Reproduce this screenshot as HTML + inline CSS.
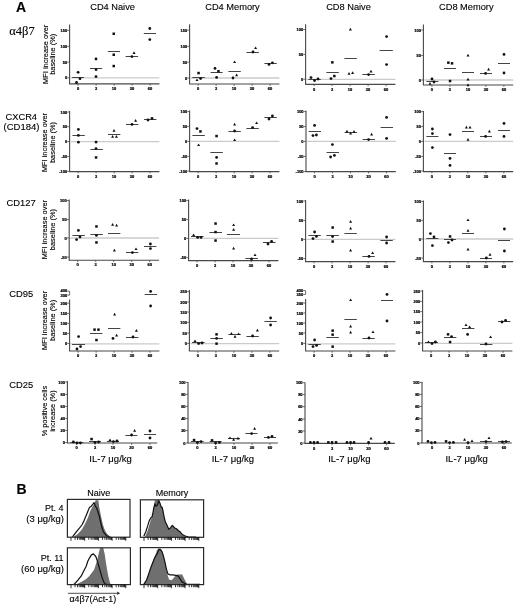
<!DOCTYPE html>
<html><head><meta charset="utf-8"><style>
html,body{margin:0;padding:0;background:#fff;}
body{width:520px;height:607px;overflow:hidden;}
svg{display:block;filter:grayscale(1) blur(0.35px);}
svg text{font-family:"Liberation Sans", sans-serif;fill:#000;stroke:#000;stroke-width:0.12px;}
.tk{font-weight:bold;fill:#000;stroke:#000;stroke-width:0.22px;}
</style></head><body>
<svg width="520" height="607" viewBox="0 0 520 607">
<rect width="520" height="607" fill="#fff"/>
<line x1="70.6" y1="77.8" x2="159.4" y2="77.8" stroke="#cbcbcb" stroke-width="1.3"/>
<line x1="69.6" y1="24.4" x2="69.6" y2="83.9" stroke="#484848" stroke-width="1.1"/>
<line x1="69.1" y1="83.9" x2="159.4" y2="83.9" stroke="#484848" stroke-width="1.1"/>
<line x1="67.4" y1="30.4" x2="69.6" y2="30.4" stroke="#484848" stroke-width="0.8"/>
<text x="67.2" y="31.9" font-size="4.0" class="tk" text-anchor="end">150</text>
<line x1="67.4" y1="46.4" x2="69.6" y2="46.4" stroke="#484848" stroke-width="0.8"/>
<text x="67.2" y="47.9" font-size="4.0" class="tk" text-anchor="end">100</text>
<line x1="67.4" y1="62.1" x2="69.6" y2="62.1" stroke="#484848" stroke-width="0.8"/>
<text x="67.2" y="63.6" font-size="4.0" class="tk" text-anchor="end">50</text>
<line x1="67.4" y1="77.8" x2="69.6" y2="77.8" stroke="#484848" stroke-width="0.8"/>
<text x="67.2" y="79.3" font-size="4.0" class="tk" text-anchor="end">0</text>
<line x1="78.1" y1="83.9" x2="78.1" y2="85.7" stroke="#484848" stroke-width="0.8"/>
<text x="78.1" y="90.1" font-size="4.0" class="tk" text-anchor="middle">0</text>
<line x1="96.1" y1="83.9" x2="96.1" y2="85.7" stroke="#484848" stroke-width="0.8"/>
<text x="96.1" y="90.1" font-size="4.0" class="tk" text-anchor="middle">3</text>
<line x1="114.1" y1="83.9" x2="114.1" y2="85.7" stroke="#484848" stroke-width="0.8"/>
<text x="114.1" y="90.1" font-size="4.0" class="tk" text-anchor="middle">10</text>
<line x1="132.1" y1="83.9" x2="132.1" y2="85.7" stroke="#484848" stroke-width="0.8"/>
<text x="132.1" y="90.1" font-size="4.0" class="tk" text-anchor="middle">30</text>
<line x1="150.1" y1="83.9" x2="150.1" y2="85.7" stroke="#484848" stroke-width="0.8"/>
<text x="150.1" y="90.1" font-size="4.0" class="tk" text-anchor="middle">60</text>
<line x1="72.1" y1="77.5" x2="84.0" y2="77.5" stroke="#444" stroke-width="1"/>
<line x1="90.0" y1="68.5" x2="102.2" y2="68.5" stroke="#444" stroke-width="1"/>
<line x1="107.8" y1="51.5" x2="120.0" y2="51.5" stroke="#444" stroke-width="1"/>
<line x1="125.6" y1="56.5" x2="138.1" y2="56.5" stroke="#444" stroke-width="1"/>
<line x1="143.8" y1="33.5" x2="156.0" y2="33.5" stroke="#444" stroke-width="1"/>
<circle cx="78.1" cy="72.3" r="1.4" fill="#111"/>
<circle cx="80.0" cy="78.7" r="1.4" fill="#111"/>
<circle cx="76.5" cy="82.5" r="1.4" fill="#111"/>
<circle cx="96.0" cy="59.0" r="1.4" fill="#111"/>
<rect x="94.8" y="68.3" width="2.5" height="2.5" fill="#111"/>
<circle cx="96.0" cy="76.6" r="1.4" fill="#111"/>
<rect x="112.5" y="32.5" width="2.5" height="2.5" fill="#111"/>
<rect x="112.5" y="53.5" width="2.5" height="2.5" fill="#111"/>
<rect x="112.5" y="64.8" width="2.5" height="2.5" fill="#111"/>
<circle cx="131.9" cy="56.6" r="1.4" fill="#111"/>
<path d="M134.0 51.3L135.5 54.0L132.5 54.0Z" fill="#111"/>
<circle cx="149.8" cy="28.5" r="1.4" fill="#111"/>
<circle cx="149.8" cy="39.6" r="1.4" fill="#111"/>
<line x1="190.6" y1="78.0" x2="279.4" y2="78.0" stroke="#cbcbcb" stroke-width="1.3"/>
<line x1="189.6" y1="24.2" x2="189.6" y2="84.0" stroke="#484848" stroke-width="1.1"/>
<line x1="189.1" y1="84.0" x2="279.4" y2="84.0" stroke="#484848" stroke-width="1.1"/>
<line x1="187.4" y1="30.2" x2="189.6" y2="30.2" stroke="#484848" stroke-width="0.8"/>
<text x="187.2" y="31.7" font-size="4.0" class="tk" text-anchor="end">150</text>
<line x1="187.4" y1="46.3" x2="189.6" y2="46.3" stroke="#484848" stroke-width="0.8"/>
<text x="187.2" y="47.8" font-size="4.0" class="tk" text-anchor="end">100</text>
<line x1="187.4" y1="62.2" x2="189.6" y2="62.2" stroke="#484848" stroke-width="0.8"/>
<text x="187.2" y="63.7" font-size="4.0" class="tk" text-anchor="end">50</text>
<line x1="187.4" y1="78.0" x2="189.6" y2="78.0" stroke="#484848" stroke-width="0.8"/>
<text x="187.2" y="79.5" font-size="4.0" class="tk" text-anchor="end">0</text>
<line x1="198.1" y1="84.0" x2="198.1" y2="85.8" stroke="#484848" stroke-width="0.8"/>
<text x="198.1" y="90.2" font-size="4.0" class="tk" text-anchor="middle">0</text>
<line x1="216.1" y1="84.0" x2="216.1" y2="85.8" stroke="#484848" stroke-width="0.8"/>
<text x="216.1" y="90.2" font-size="4.0" class="tk" text-anchor="middle">3</text>
<line x1="234.1" y1="84.0" x2="234.1" y2="85.8" stroke="#484848" stroke-width="0.8"/>
<text x="234.1" y="90.2" font-size="4.0" class="tk" text-anchor="middle">10</text>
<line x1="252.1" y1="84.0" x2="252.1" y2="85.8" stroke="#484848" stroke-width="0.8"/>
<text x="252.1" y="90.2" font-size="4.0" class="tk" text-anchor="middle">30</text>
<line x1="270.1" y1="84.0" x2="270.1" y2="85.8" stroke="#484848" stroke-width="0.8"/>
<text x="270.1" y="90.2" font-size="4.0" class="tk" text-anchor="middle">60</text>
<line x1="192.4" y1="77.5" x2="204.8" y2="77.5" stroke="#444" stroke-width="1"/>
<line x1="210.6" y1="72.5" x2="222.6" y2="72.5" stroke="#444" stroke-width="1"/>
<line x1="228.4" y1="71.5" x2="240.8" y2="71.5" stroke="#444" stroke-width="1"/>
<line x1="246.4" y1="52.5" x2="258.8" y2="52.5" stroke="#444" stroke-width="1"/>
<line x1="264.4" y1="63.5" x2="276.8" y2="63.5" stroke="#444" stroke-width="1"/>
<rect x="197.3" y="71.8" width="2.5" height="2.5" fill="#111"/>
<circle cx="200.6" cy="78.6" r="1.4" fill="#111"/>
<path d="M197.0 78.4L198.5 81.1L195.5 81.1Z" fill="#111"/>
<circle cx="215.0" cy="68.4" r="1.4" fill="#111"/>
<rect x="217.2" y="70.0" width="2.5" height="2.5" fill="#111"/>
<circle cx="216.6" cy="77.4" r="1.4" fill="#111"/>
<path d="M234.6 60.4L236.1 63.1L233.1 63.1Z" fill="#111"/>
<path d="M236.6 73.6L238.1 76.3L235.1 76.3Z" fill="#111"/>
<circle cx="233.0" cy="78.0" r="1.4" fill="#111"/>
<circle cx="253.0" cy="52.0" r="1.4" fill="#111"/>
<path d="M255.6 46.4L257.1 49.1L254.1 49.1Z" fill="#111"/>
<circle cx="269.0" cy="64.4" r="1.4" fill="#111"/>
<circle cx="272.4" cy="62.8" r="1.4" fill="#111"/>
<line x1="306.6" y1="79.4" x2="395.4" y2="79.4" stroke="#cbcbcb" stroke-width="1.3"/>
<line x1="305.6" y1="24.2" x2="305.6" y2="84.4" stroke="#484848" stroke-width="1.1"/>
<line x1="305.1" y1="84.4" x2="395.4" y2="84.4" stroke="#484848" stroke-width="1.1"/>
<line x1="303.4" y1="29.6" x2="305.6" y2="29.6" stroke="#484848" stroke-width="0.8"/>
<text x="303.2" y="31.1" font-size="4.0" class="tk" text-anchor="end">100</text>
<line x1="303.4" y1="54.4" x2="305.6" y2="54.4" stroke="#484848" stroke-width="0.8"/>
<text x="303.2" y="55.9" font-size="4.0" class="tk" text-anchor="end">50</text>
<line x1="303.4" y1="79.2" x2="305.6" y2="79.2" stroke="#484848" stroke-width="0.8"/>
<text x="303.2" y="80.7" font-size="4.0" class="tk" text-anchor="end">0</text>
<line x1="314.1" y1="84.4" x2="314.1" y2="86.2" stroke="#484848" stroke-width="0.8"/>
<text x="314.1" y="90.6" font-size="4.0" class="tk" text-anchor="middle">0</text>
<line x1="332.1" y1="84.4" x2="332.1" y2="86.2" stroke="#484848" stroke-width="0.8"/>
<text x="332.1" y="90.6" font-size="4.0" class="tk" text-anchor="middle">3</text>
<line x1="350.1" y1="84.4" x2="350.1" y2="86.2" stroke="#484848" stroke-width="0.8"/>
<text x="350.1" y="90.6" font-size="4.0" class="tk" text-anchor="middle">10</text>
<line x1="368.1" y1="84.4" x2="368.1" y2="86.2" stroke="#484848" stroke-width="0.8"/>
<text x="368.1" y="90.6" font-size="4.0" class="tk" text-anchor="middle">30</text>
<line x1="386.1" y1="84.4" x2="386.1" y2="86.2" stroke="#484848" stroke-width="0.8"/>
<text x="386.1" y="90.6" font-size="4.0" class="tk" text-anchor="middle">60</text>
<line x1="308.4" y1="79.5" x2="320.8" y2="79.5" stroke="#444" stroke-width="1"/>
<line x1="326.4" y1="72.5" x2="338.8" y2="72.5" stroke="#444" stroke-width="1"/>
<line x1="344.4" y1="58.5" x2="356.8" y2="58.5" stroke="#444" stroke-width="1"/>
<line x1="362.4" y1="74.5" x2="374.8" y2="74.5" stroke="#444" stroke-width="1"/>
<line x1="379.6" y1="50.5" x2="392.8" y2="50.5" stroke="#444" stroke-width="1"/>
<circle cx="311.0" cy="77.6" r="1.4" fill="#111"/>
<circle cx="314.6" cy="80.6" r="1.4" fill="#111"/>
<circle cx="318.0" cy="79.0" r="1.4" fill="#111"/>
<rect x="331.1" y="61.1" width="2.5" height="2.5" fill="#111"/>
<rect x="333.1" y="74.8" width="2.5" height="2.5" fill="#111"/>
<circle cx="331.0" cy="78.6" r="1.4" fill="#111"/>
<path d="M350.4 27.8L351.9 30.5L348.9 30.5Z" fill="#111"/>
<path d="M349.0 72.0L350.5 74.7L347.5 74.7Z" fill="#111"/>
<path d="M352.6 71.2L354.1 73.9L351.1 73.9Z" fill="#111"/>
<circle cx="368.6" cy="74.6" r="1.4" fill="#111"/>
<path d="M371.0 69.8L372.5 72.5L369.5 72.5Z" fill="#111"/>
<circle cx="386.6" cy="36.6" r="1.4" fill="#111"/>
<circle cx="386.6" cy="64.6" r="1.4" fill="#111"/>
<line x1="424.4" y1="80.0" x2="513.2" y2="80.0" stroke="#cbcbcb" stroke-width="1.3"/>
<line x1="423.4" y1="24.4" x2="423.4" y2="85.0" stroke="#484848" stroke-width="1.1"/>
<line x1="422.9" y1="85.0" x2="513.2" y2="85.0" stroke="#484848" stroke-width="1.1"/>
<line x1="421.2" y1="30.0" x2="423.4" y2="30.0" stroke="#484848" stroke-width="0.8"/>
<text x="421.0" y="31.5" font-size="4.0" class="tk" text-anchor="end">100</text>
<line x1="421.2" y1="55.4" x2="423.4" y2="55.4" stroke="#484848" stroke-width="0.8"/>
<text x="421.0" y="56.9" font-size="4.0" class="tk" text-anchor="end">50</text>
<line x1="421.2" y1="80.0" x2="423.4" y2="80.0" stroke="#484848" stroke-width="0.8"/>
<text x="421.0" y="81.5" font-size="4.0" class="tk" text-anchor="end">0</text>
<line x1="431.9" y1="85.0" x2="431.9" y2="86.8" stroke="#484848" stroke-width="0.8"/>
<text x="431.9" y="91.2" font-size="4.0" class="tk" text-anchor="middle">0</text>
<line x1="449.9" y1="85.0" x2="449.9" y2="86.8" stroke="#484848" stroke-width="0.8"/>
<text x="449.9" y="91.2" font-size="4.0" class="tk" text-anchor="middle">3</text>
<line x1="467.9" y1="85.0" x2="467.9" y2="86.8" stroke="#484848" stroke-width="0.8"/>
<text x="467.9" y="91.2" font-size="4.0" class="tk" text-anchor="middle">10</text>
<line x1="485.9" y1="85.0" x2="485.9" y2="86.8" stroke="#484848" stroke-width="0.8"/>
<text x="485.9" y="91.2" font-size="4.0" class="tk" text-anchor="middle">30</text>
<line x1="503.9" y1="85.0" x2="503.9" y2="86.8" stroke="#484848" stroke-width="0.8"/>
<text x="503.9" y="91.2" font-size="4.0" class="tk" text-anchor="middle">60</text>
<line x1="426.4" y1="81.5" x2="438.4" y2="81.5" stroke="#444" stroke-width="1"/>
<line x1="444.0" y1="68.5" x2="456.0" y2="68.5" stroke="#444" stroke-width="1"/>
<line x1="462.0" y1="72.5" x2="474.0" y2="72.5" stroke="#444" stroke-width="1"/>
<line x1="480.0" y1="73.5" x2="492.0" y2="73.5" stroke="#444" stroke-width="1"/>
<line x1="498.0" y1="63.5" x2="510.0" y2="63.5" stroke="#444" stroke-width="1"/>
<circle cx="432.0" cy="79.0" r="1.4" fill="#111"/>
<circle cx="434.0" cy="82.0" r="1.4" fill="#111"/>
<path d="M430.0 82.0L431.5 84.7L428.5 84.7Z" fill="#111"/>
<rect x="447.1" y="61.4" width="2.5" height="2.5" fill="#111"/>
<rect x="450.8" y="62.1" width="2.5" height="2.5" fill="#111"/>
<rect x="448.8" y="79.8" width="2.5" height="2.5" fill="#111"/>
<path d="M468.0 53.8L469.5 56.5L466.5 56.5Z" fill="#111"/>
<path d="M468.0 77.8L469.5 80.5L466.5 80.5Z" fill="#111"/>
<path d="M468.0 83.4L469.5 86.1L466.5 86.1Z" fill="#111"/>
<circle cx="485.6" cy="73.4" r="1.4" fill="#111"/>
<path d="M488.6 67.8L490.1 70.5L487.1 70.5Z" fill="#111"/>
<circle cx="504.0" cy="54.4" r="1.4" fill="#111"/>
<circle cx="504.0" cy="73.0" r="1.4" fill="#111"/>
<line x1="70.6" y1="141.7" x2="159.4" y2="141.7" stroke="#cbcbcb" stroke-width="1.3"/>
<line x1="69.6" y1="111.0" x2="69.6" y2="171.6" stroke="#484848" stroke-width="1.1"/>
<line x1="69.1" y1="171.6" x2="159.4" y2="171.6" stroke="#484848" stroke-width="1.1"/>
<line x1="67.4" y1="112.0" x2="69.6" y2="112.0" stroke="#484848" stroke-width="0.8"/>
<text x="67.2" y="113.5" font-size="4.0" class="tk" text-anchor="end">100</text>
<line x1="67.4" y1="126.7" x2="69.6" y2="126.7" stroke="#484848" stroke-width="0.8"/>
<text x="67.2" y="128.2" font-size="4.0" class="tk" text-anchor="end">50</text>
<line x1="67.4" y1="141.6" x2="69.6" y2="141.6" stroke="#484848" stroke-width="0.8"/>
<text x="67.2" y="143.1" font-size="4.0" class="tk" text-anchor="end">0</text>
<line x1="67.4" y1="156.5" x2="69.6" y2="156.5" stroke="#484848" stroke-width="0.8"/>
<text x="67.2" y="158.0" font-size="4.0" class="tk" text-anchor="end">-50</text>
<line x1="67.4" y1="171.4" x2="69.6" y2="171.4" stroke="#484848" stroke-width="0.8"/>
<text x="67.2" y="172.9" font-size="4.0" class="tk" text-anchor="end">-100</text>
<line x1="78.1" y1="171.6" x2="78.1" y2="173.4" stroke="#484848" stroke-width="0.8"/>
<text x="78.1" y="177.8" font-size="4.0" class="tk" text-anchor="middle">0</text>
<line x1="96.1" y1="171.6" x2="96.1" y2="173.4" stroke="#484848" stroke-width="0.8"/>
<text x="96.1" y="177.8" font-size="4.0" class="tk" text-anchor="middle">3</text>
<line x1="114.1" y1="171.6" x2="114.1" y2="173.4" stroke="#484848" stroke-width="0.8"/>
<text x="114.1" y="177.8" font-size="4.0" class="tk" text-anchor="middle">10</text>
<line x1="132.1" y1="171.6" x2="132.1" y2="173.4" stroke="#484848" stroke-width="0.8"/>
<text x="132.1" y="177.8" font-size="4.0" class="tk" text-anchor="middle">30</text>
<line x1="150.1" y1="171.6" x2="150.1" y2="173.4" stroke="#484848" stroke-width="0.8"/>
<text x="150.1" y="177.8" font-size="4.0" class="tk" text-anchor="middle">60</text>
<line x1="72.4" y1="135.5" x2="84.8" y2="135.5" stroke="#444" stroke-width="1"/>
<line x1="90.4" y1="149.5" x2="102.8" y2="149.5" stroke="#444" stroke-width="1"/>
<line x1="108.0" y1="134.5" x2="120.4" y2="134.5" stroke="#444" stroke-width="1"/>
<line x1="126.0" y1="124.5" x2="138.4" y2="124.5" stroke="#444" stroke-width="1"/>
<line x1="144.0" y1="119.5" x2="156.4" y2="119.5" stroke="#444" stroke-width="1"/>
<circle cx="78.4" cy="129.4" r="1.4" fill="#111"/>
<circle cx="78.4" cy="135.4" r="1.4" fill="#111"/>
<circle cx="78.4" cy="142.2" r="1.4" fill="#111"/>
<rect x="94.8" y="140.8" width="2.5" height="2.5" fill="#111"/>
<circle cx="96.0" cy="148.6" r="1.4" fill="#111"/>
<rect x="94.8" y="156.2" width="2.5" height="2.5" fill="#111"/>
<path d="M114.0 129.0L115.5 131.7L112.5 131.7Z" fill="#111"/>
<path d="M112.6 135.0L114.1 137.7L111.1 137.7Z" fill="#111"/>
<path d="M116.4 135.0L117.9 137.7L114.9 137.7Z" fill="#111"/>
<circle cx="132.0" cy="124.4" r="1.4" fill="#111"/>
<path d="M135.6 119.0L137.1 121.7L134.1 121.7Z" fill="#111"/>
<circle cx="148.0" cy="120.0" r="1.4" fill="#111"/>
<circle cx="152.0" cy="118.4" r="1.4" fill="#111"/>
<line x1="190.6" y1="141.4" x2="279.4" y2="141.4" stroke="#cbcbcb" stroke-width="1.3"/>
<line x1="189.6" y1="110.6" x2="189.6" y2="171.6" stroke="#484848" stroke-width="1.1"/>
<line x1="189.1" y1="171.6" x2="279.4" y2="171.6" stroke="#484848" stroke-width="1.1"/>
<line x1="187.4" y1="111.6" x2="189.6" y2="111.6" stroke="#484848" stroke-width="0.8"/>
<text x="187.2" y="113.1" font-size="4.0" class="tk" text-anchor="end">100</text>
<line x1="187.4" y1="126.4" x2="189.6" y2="126.4" stroke="#484848" stroke-width="0.8"/>
<text x="187.2" y="127.9" font-size="4.0" class="tk" text-anchor="end">50</text>
<line x1="187.4" y1="141.4" x2="189.6" y2="141.4" stroke="#484848" stroke-width="0.8"/>
<text x="187.2" y="142.9" font-size="4.0" class="tk" text-anchor="end">0</text>
<line x1="187.4" y1="156.4" x2="189.6" y2="156.4" stroke="#484848" stroke-width="0.8"/>
<text x="187.2" y="157.9" font-size="4.0" class="tk" text-anchor="end">-50</text>
<line x1="187.4" y1="171.0" x2="189.6" y2="171.0" stroke="#484848" stroke-width="0.8"/>
<text x="187.2" y="172.5" font-size="4.0" class="tk" text-anchor="end">-100</text>
<line x1="198.1" y1="171.6" x2="198.1" y2="173.4" stroke="#484848" stroke-width="0.8"/>
<text x="198.1" y="177.8" font-size="4.0" class="tk" text-anchor="middle">0</text>
<line x1="216.1" y1="171.6" x2="216.1" y2="173.4" stroke="#484848" stroke-width="0.8"/>
<text x="216.1" y="177.8" font-size="4.0" class="tk" text-anchor="middle">3</text>
<line x1="234.1" y1="171.6" x2="234.1" y2="173.4" stroke="#484848" stroke-width="0.8"/>
<text x="234.1" y="177.8" font-size="4.0" class="tk" text-anchor="middle">10</text>
<line x1="252.1" y1="171.6" x2="252.1" y2="173.4" stroke="#484848" stroke-width="0.8"/>
<text x="252.1" y="177.8" font-size="4.0" class="tk" text-anchor="middle">30</text>
<line x1="270.1" y1="171.6" x2="270.1" y2="173.4" stroke="#484848" stroke-width="0.8"/>
<text x="270.1" y="177.8" font-size="4.0" class="tk" text-anchor="middle">60</text>
<line x1="192.4" y1="135.5" x2="204.8" y2="135.5" stroke="#444" stroke-width="1"/>
<line x1="210.4" y1="152.5" x2="222.8" y2="152.5" stroke="#444" stroke-width="1"/>
<line x1="228.4" y1="131.5" x2="240.8" y2="131.5" stroke="#444" stroke-width="1"/>
<line x1="246.4" y1="128.5" x2="258.8" y2="128.5" stroke="#444" stroke-width="1"/>
<line x1="264.4" y1="117.5" x2="276.8" y2="117.5" stroke="#444" stroke-width="1"/>
<circle cx="197.0" cy="128.6" r="1.4" fill="#111"/>
<rect x="199.2" y="130.2" width="2.5" height="2.5" fill="#111"/>
<path d="M198.6 143.4L200.1 146.1L197.1 146.1Z" fill="#111"/>
<rect x="215.3" y="134.8" width="2.5" height="2.5" fill="#111"/>
<circle cx="216.6" cy="157.4" r="1.4" fill="#111"/>
<rect x="215.3" y="162.2" width="2.5" height="2.5" fill="#111"/>
<path d="M234.6 122.8L236.1 125.5L233.1 125.5Z" fill="#111"/>
<circle cx="234.6" cy="131.0" r="1.4" fill="#111"/>
<path d="M234.6 138.4L236.1 141.1L233.1 141.1Z" fill="#111"/>
<circle cx="252.6" cy="127.6" r="1.4" fill="#111"/>
<path d="M256.6 121.4L258.1 124.1L255.1 124.1Z" fill="#111"/>
<circle cx="269.0" cy="119.0" r="1.4" fill="#111"/>
<circle cx="272.4" cy="116.0" r="1.4" fill="#111"/>
<line x1="307.0" y1="141.4" x2="395.8" y2="141.4" stroke="#cbcbcb" stroke-width="1.3"/>
<line x1="306.0" y1="110.6" x2="306.0" y2="171.6" stroke="#484848" stroke-width="1.1"/>
<line x1="305.5" y1="171.6" x2="395.8" y2="171.6" stroke="#484848" stroke-width="1.1"/>
<line x1="303.8" y1="111.6" x2="306.0" y2="111.6" stroke="#484848" stroke-width="0.8"/>
<text x="303.6" y="113.1" font-size="4.0" class="tk" text-anchor="end">100</text>
<line x1="303.8" y1="126.6" x2="306.0" y2="126.6" stroke="#484848" stroke-width="0.8"/>
<text x="303.6" y="128.1" font-size="4.0" class="tk" text-anchor="end">50</text>
<line x1="303.8" y1="141.4" x2="306.0" y2="141.4" stroke="#484848" stroke-width="0.8"/>
<text x="303.6" y="142.9" font-size="4.0" class="tk" text-anchor="end">0</text>
<line x1="303.8" y1="156.4" x2="306.0" y2="156.4" stroke="#484848" stroke-width="0.8"/>
<text x="303.6" y="157.9" font-size="4.0" class="tk" text-anchor="end">-50</text>
<line x1="303.8" y1="171.6" x2="306.0" y2="171.6" stroke="#484848" stroke-width="0.8"/>
<text x="303.6" y="173.1" font-size="4.0" class="tk" text-anchor="end">-100</text>
<line x1="314.5" y1="171.6" x2="314.5" y2="173.4" stroke="#484848" stroke-width="0.8"/>
<text x="314.5" y="177.8" font-size="4.0" class="tk" text-anchor="middle">0</text>
<line x1="332.5" y1="171.6" x2="332.5" y2="173.4" stroke="#484848" stroke-width="0.8"/>
<text x="332.5" y="177.8" font-size="4.0" class="tk" text-anchor="middle">3</text>
<line x1="350.5" y1="171.6" x2="350.5" y2="173.4" stroke="#484848" stroke-width="0.8"/>
<text x="350.5" y="177.8" font-size="4.0" class="tk" text-anchor="middle">10</text>
<line x1="368.5" y1="171.6" x2="368.5" y2="173.4" stroke="#484848" stroke-width="0.8"/>
<text x="368.5" y="177.8" font-size="4.0" class="tk" text-anchor="middle">30</text>
<line x1="386.5" y1="171.6" x2="386.5" y2="173.4" stroke="#484848" stroke-width="0.8"/>
<text x="386.5" y="177.8" font-size="4.0" class="tk" text-anchor="middle">60</text>
<line x1="308.6" y1="131.5" x2="321.0" y2="131.5" stroke="#444" stroke-width="1"/>
<line x1="326.6" y1="152.5" x2="339.0" y2="152.5" stroke="#444" stroke-width="1"/>
<line x1="344.6" y1="132.5" x2="357.0" y2="132.5" stroke="#444" stroke-width="1"/>
<line x1="362.6" y1="139.5" x2="375.0" y2="139.5" stroke="#444" stroke-width="1"/>
<line x1="380.6" y1="127.5" x2="393.0" y2="127.5" stroke="#444" stroke-width="1"/>
<circle cx="314.6" cy="125.4" r="1.4" fill="#111"/>
<circle cx="313.0" cy="135.6" r="1.4" fill="#111"/>
<circle cx="316.4" cy="135.0" r="1.4" fill="#111"/>
<circle cx="332.4" cy="144.6" r="1.4" fill="#111"/>
<circle cx="330.6" cy="157.0" r="1.4" fill="#111"/>
<circle cx="334.4" cy="155.4" r="1.4" fill="#111"/>
<path d="M347.0 129.8L348.5 132.5L345.5 132.5Z" fill="#111"/>
<path d="M350.6 131.8L352.1 134.5L349.1 134.5Z" fill="#111"/>
<path d="M354.0 130.0L355.5 132.7L352.5 132.7Z" fill="#111"/>
<circle cx="368.6" cy="139.6" r="1.4" fill="#111"/>
<path d="M371.6 132.8L373.1 135.5L370.1 135.5Z" fill="#111"/>
<circle cx="386.6" cy="117.4" r="1.4" fill="#111"/>
<circle cx="386.6" cy="138.4" r="1.4" fill="#111"/>
<line x1="424.4" y1="141.4" x2="513.2" y2="141.4" stroke="#cbcbcb" stroke-width="1.3"/>
<line x1="423.4" y1="111.0" x2="423.4" y2="171.6" stroke="#484848" stroke-width="1.1"/>
<line x1="422.9" y1="171.6" x2="513.2" y2="171.6" stroke="#484848" stroke-width="1.1"/>
<line x1="421.2" y1="111.6" x2="423.4" y2="111.6" stroke="#484848" stroke-width="0.8"/>
<text x="421.0" y="113.1" font-size="4.0" class="tk" text-anchor="end">100</text>
<line x1="421.2" y1="126.4" x2="423.4" y2="126.4" stroke="#484848" stroke-width="0.8"/>
<text x="421.0" y="127.9" font-size="4.0" class="tk" text-anchor="end">50</text>
<line x1="421.2" y1="141.4" x2="423.4" y2="141.4" stroke="#484848" stroke-width="0.8"/>
<text x="421.0" y="142.9" font-size="4.0" class="tk" text-anchor="end">0</text>
<line x1="421.2" y1="156.4" x2="423.4" y2="156.4" stroke="#484848" stroke-width="0.8"/>
<text x="421.0" y="157.9" font-size="4.0" class="tk" text-anchor="end">-50</text>
<line x1="421.2" y1="171.0" x2="423.4" y2="171.0" stroke="#484848" stroke-width="0.8"/>
<text x="421.0" y="172.5" font-size="4.0" class="tk" text-anchor="end">-100</text>
<line x1="431.9" y1="171.6" x2="431.9" y2="173.4" stroke="#484848" stroke-width="0.8"/>
<text x="431.9" y="177.8" font-size="4.0" class="tk" text-anchor="middle">0</text>
<line x1="449.9" y1="171.6" x2="449.9" y2="173.4" stroke="#484848" stroke-width="0.8"/>
<text x="449.9" y="177.8" font-size="4.0" class="tk" text-anchor="middle">3</text>
<line x1="467.9" y1="171.6" x2="467.9" y2="173.4" stroke="#484848" stroke-width="0.8"/>
<text x="467.9" y="177.8" font-size="4.0" class="tk" text-anchor="middle">10</text>
<line x1="485.9" y1="171.6" x2="485.9" y2="173.4" stroke="#484848" stroke-width="0.8"/>
<text x="485.9" y="177.8" font-size="4.0" class="tk" text-anchor="middle">30</text>
<line x1="503.9" y1="171.6" x2="503.9" y2="173.4" stroke="#484848" stroke-width="0.8"/>
<text x="503.9" y="177.8" font-size="4.0" class="tk" text-anchor="middle">60</text>
<line x1="426.4" y1="136.5" x2="438.4" y2="136.5" stroke="#444" stroke-width="1"/>
<line x1="444.0" y1="153.5" x2="456.0" y2="153.5" stroke="#444" stroke-width="1"/>
<line x1="462.0" y1="131.5" x2="474.0" y2="131.5" stroke="#444" stroke-width="1"/>
<line x1="480.0" y1="136.5" x2="492.0" y2="136.5" stroke="#444" stroke-width="1"/>
<line x1="498.0" y1="130.5" x2="510.0" y2="130.5" stroke="#444" stroke-width="1"/>
<circle cx="432.4" cy="129.0" r="1.4" fill="#111"/>
<circle cx="432.4" cy="133.6" r="1.4" fill="#111"/>
<circle cx="432.4" cy="147.6" r="1.4" fill="#111"/>
<circle cx="450.0" cy="134.6" r="1.4" fill="#111"/>
<circle cx="450.0" cy="158.4" r="1.4" fill="#111"/>
<circle cx="450.0" cy="165.4" r="1.4" fill="#111"/>
<path d="M466.4 125.8L467.9 128.5L464.9 128.5Z" fill="#111"/>
<path d="M470.0 125.8L471.5 128.5L468.5 128.5Z" fill="#111"/>
<path d="M468.0 138.0L469.5 140.7L466.5 140.7Z" fill="#111"/>
<circle cx="485.6" cy="136.4" r="1.4" fill="#111"/>
<path d="M489.4 129.8L490.9 132.5L487.9 132.5Z" fill="#111"/>
<circle cx="504.0" cy="123.4" r="1.4" fill="#111"/>
<circle cx="504.0" cy="136.4" r="1.4" fill="#111"/>
<line x1="70.2" y1="238.0" x2="159.0" y2="238.0" stroke="#cbcbcb" stroke-width="1.3"/>
<line x1="69.2" y1="199.4" x2="69.2" y2="260.2" stroke="#484848" stroke-width="1.1"/>
<line x1="68.7" y1="260.2" x2="159.0" y2="260.2" stroke="#484848" stroke-width="1.1"/>
<line x1="67.0" y1="200.6" x2="69.2" y2="200.6" stroke="#484848" stroke-width="0.8"/>
<text x="66.8" y="202.1" font-size="4.0" class="tk" text-anchor="end">100</text>
<line x1="67.0" y1="219.6" x2="69.2" y2="219.6" stroke="#484848" stroke-width="0.8"/>
<text x="66.8" y="221.1" font-size="4.0" class="tk" text-anchor="end">50</text>
<line x1="67.0" y1="238.0" x2="69.2" y2="238.0" stroke="#484848" stroke-width="0.8"/>
<text x="66.8" y="239.5" font-size="4.0" class="tk" text-anchor="end">0</text>
<line x1="67.0" y1="257.0" x2="69.2" y2="257.0" stroke="#484848" stroke-width="0.8"/>
<text x="66.8" y="258.5" font-size="4.0" class="tk" text-anchor="end">-50</text>
<line x1="77.7" y1="260.2" x2="77.7" y2="262.0" stroke="#484848" stroke-width="0.8"/>
<text x="77.7" y="266.4" font-size="4.0" class="tk" text-anchor="middle">0</text>
<line x1="95.7" y1="260.2" x2="95.7" y2="262.0" stroke="#484848" stroke-width="0.8"/>
<text x="95.7" y="266.4" font-size="4.0" class="tk" text-anchor="middle">3</text>
<line x1="113.7" y1="260.2" x2="113.7" y2="262.0" stroke="#484848" stroke-width="0.8"/>
<text x="113.7" y="266.4" font-size="4.0" class="tk" text-anchor="middle">10</text>
<line x1="131.7" y1="260.2" x2="131.7" y2="262.0" stroke="#484848" stroke-width="0.8"/>
<text x="131.7" y="266.4" font-size="4.0" class="tk" text-anchor="middle">30</text>
<line x1="149.7" y1="260.2" x2="149.7" y2="262.0" stroke="#484848" stroke-width="0.8"/>
<text x="149.7" y="266.4" font-size="4.0" class="tk" text-anchor="middle">60</text>
<line x1="72.4" y1="235.5" x2="84.8" y2="235.5" stroke="#444" stroke-width="1"/>
<line x1="90.4" y1="234.5" x2="102.8" y2="234.5" stroke="#444" stroke-width="1"/>
<line x1="108.0" y1="233.5" x2="120.4" y2="233.5" stroke="#444" stroke-width="1"/>
<line x1="126.0" y1="252.5" x2="138.4" y2="252.5" stroke="#444" stroke-width="1"/>
<line x1="144.0" y1="246.5" x2="156.4" y2="246.5" stroke="#444" stroke-width="1"/>
<circle cx="78.4" cy="230.4" r="1.4" fill="#111"/>
<circle cx="80.0" cy="237.0" r="1.4" fill="#111"/>
<circle cx="76.6" cy="239.6" r="1.4" fill="#111"/>
<rect x="95.2" y="225.2" width="2.5" height="2.5" fill="#111"/>
<circle cx="96.4" cy="235.4" r="1.4" fill="#111"/>
<rect x="95.2" y="241.2" width="2.5" height="2.5" fill="#111"/>
<path d="M112.6 223.0L114.1 225.7L111.1 225.7Z" fill="#111"/>
<path d="M116.6 223.8L118.1 226.5L115.1 226.5Z" fill="#111"/>
<path d="M114.4 248.8L115.9 251.5L112.9 251.5Z" fill="#111"/>
<circle cx="132.4" cy="252.6" r="1.4" fill="#111"/>
<path d="M136.0 247.4L137.5 250.1L134.5 250.1Z" fill="#111"/>
<circle cx="150.4" cy="244.0" r="1.4" fill="#111"/>
<circle cx="150.4" cy="248.6" r="1.4" fill="#111"/>
<line x1="189.6" y1="238.4" x2="278.4" y2="238.4" stroke="#cbcbcb" stroke-width="1.3"/>
<line x1="188.6" y1="199.4" x2="188.6" y2="260.6" stroke="#484848" stroke-width="1.1"/>
<line x1="188.1" y1="260.6" x2="278.4" y2="260.6" stroke="#484848" stroke-width="1.1"/>
<line x1="186.4" y1="200.6" x2="188.6" y2="200.6" stroke="#484848" stroke-width="0.8"/>
<text x="186.2" y="202.1" font-size="4.0" class="tk" text-anchor="end">100</text>
<line x1="186.4" y1="219.6" x2="188.6" y2="219.6" stroke="#484848" stroke-width="0.8"/>
<text x="186.2" y="221.1" font-size="4.0" class="tk" text-anchor="end">50</text>
<line x1="186.4" y1="238.4" x2="188.6" y2="238.4" stroke="#484848" stroke-width="0.8"/>
<text x="186.2" y="239.9" font-size="4.0" class="tk" text-anchor="end">0</text>
<line x1="186.4" y1="257.6" x2="188.6" y2="257.6" stroke="#484848" stroke-width="0.8"/>
<text x="186.2" y="259.1" font-size="4.0" class="tk" text-anchor="end">-50</text>
<line x1="197.1" y1="260.6" x2="197.1" y2="262.4" stroke="#484848" stroke-width="0.8"/>
<text x="197.1" y="266.8" font-size="4.0" class="tk" text-anchor="middle">0</text>
<line x1="215.1" y1="260.6" x2="215.1" y2="262.4" stroke="#484848" stroke-width="0.8"/>
<text x="215.1" y="266.8" font-size="4.0" class="tk" text-anchor="middle">3</text>
<line x1="233.1" y1="260.6" x2="233.1" y2="262.4" stroke="#484848" stroke-width="0.8"/>
<text x="233.1" y="266.8" font-size="4.0" class="tk" text-anchor="middle">10</text>
<line x1="251.1" y1="260.6" x2="251.1" y2="262.4" stroke="#484848" stroke-width="0.8"/>
<text x="251.1" y="266.8" font-size="4.0" class="tk" text-anchor="middle">30</text>
<line x1="269.1" y1="260.6" x2="269.1" y2="262.4" stroke="#484848" stroke-width="0.8"/>
<text x="269.1" y="266.8" font-size="4.0" class="tk" text-anchor="middle">60</text>
<line x1="191.0" y1="236.5" x2="203.6" y2="236.5" stroke="#444" stroke-width="1"/>
<line x1="209.4" y1="232.5" x2="222.0" y2="232.5" stroke="#444" stroke-width="1"/>
<line x1="227.0" y1="234.5" x2="240.0" y2="234.5" stroke="#444" stroke-width="1"/>
<line x1="245.4" y1="258.5" x2="258.0" y2="258.5" stroke="#444" stroke-width="1"/>
<line x1="263.0" y1="242.5" x2="275.6" y2="242.5" stroke="#444" stroke-width="1"/>
<path d="M193.6 233.4L195.1 236.1L192.1 236.1Z" fill="#111"/>
<circle cx="197.6" cy="237.4" r="1.4" fill="#111"/>
<circle cx="201.0" cy="237.4" r="1.4" fill="#111"/>
<rect x="214.3" y="222.3" width="2.5" height="2.5" fill="#111"/>
<rect x="214.3" y="230.8" width="2.5" height="2.5" fill="#111"/>
<rect x="214.3" y="239.3" width="2.5" height="2.5" fill="#111"/>
<path d="M233.6 223.4L235.1 226.1L232.1 226.1Z" fill="#111"/>
<path d="M233.6 228.0L235.1 230.7L232.1 230.7Z" fill="#111"/>
<path d="M233.6 246.8L235.1 249.5L232.1 249.5Z" fill="#111"/>
<circle cx="251.6" cy="259.0" r="1.4" fill="#111"/>
<path d="M255.0 253.4L256.5 256.1L253.5 256.1Z" fill="#111"/>
<circle cx="268.0" cy="244.0" r="1.4" fill="#111"/>
<circle cx="271.6" cy="241.4" r="1.4" fill="#111"/>
<line x1="306.6" y1="239.4" x2="395.4" y2="239.4" stroke="#cbcbcb" stroke-width="1.3"/>
<line x1="305.6" y1="200.0" x2="305.6" y2="261.6" stroke="#484848" stroke-width="1.1"/>
<line x1="305.1" y1="261.6" x2="395.4" y2="261.6" stroke="#484848" stroke-width="1.1"/>
<line x1="303.4" y1="201.0" x2="305.6" y2="201.0" stroke="#484848" stroke-width="0.8"/>
<text x="303.2" y="202.5" font-size="4.0" class="tk" text-anchor="end">100</text>
<line x1="303.4" y1="220.4" x2="305.6" y2="220.4" stroke="#484848" stroke-width="0.8"/>
<text x="303.2" y="221.9" font-size="4.0" class="tk" text-anchor="end">50</text>
<line x1="303.4" y1="239.4" x2="305.6" y2="239.4" stroke="#484848" stroke-width="0.8"/>
<text x="303.2" y="240.9" font-size="4.0" class="tk" text-anchor="end">0</text>
<line x1="303.4" y1="258.6" x2="305.6" y2="258.6" stroke="#484848" stroke-width="0.8"/>
<text x="303.2" y="260.1" font-size="4.0" class="tk" text-anchor="end">-50</text>
<line x1="314.1" y1="261.6" x2="314.1" y2="263.4" stroke="#484848" stroke-width="0.8"/>
<text x="314.1" y="267.8" font-size="4.0" class="tk" text-anchor="middle">0</text>
<line x1="332.1" y1="261.6" x2="332.1" y2="263.4" stroke="#484848" stroke-width="0.8"/>
<text x="332.1" y="267.8" font-size="4.0" class="tk" text-anchor="middle">3</text>
<line x1="350.1" y1="261.6" x2="350.1" y2="263.4" stroke="#484848" stroke-width="0.8"/>
<text x="350.1" y="267.8" font-size="4.0" class="tk" text-anchor="middle">10</text>
<line x1="368.1" y1="261.6" x2="368.1" y2="263.4" stroke="#484848" stroke-width="0.8"/>
<text x="368.1" y="267.8" font-size="4.0" class="tk" text-anchor="middle">30</text>
<line x1="386.1" y1="261.6" x2="386.1" y2="263.4" stroke="#484848" stroke-width="0.8"/>
<text x="386.1" y="267.8" font-size="4.0" class="tk" text-anchor="middle">60</text>
<line x1="308.4" y1="235.5" x2="320.8" y2="235.5" stroke="#444" stroke-width="1"/>
<line x1="326.4" y1="235.5" x2="338.8" y2="235.5" stroke="#444" stroke-width="1"/>
<line x1="344.4" y1="233.5" x2="356.8" y2="233.5" stroke="#444" stroke-width="1"/>
<line x1="362.4" y1="256.5" x2="374.8" y2="256.5" stroke="#444" stroke-width="1"/>
<line x1="380.4" y1="240.5" x2="392.8" y2="240.5" stroke="#444" stroke-width="1"/>
<circle cx="314.6" cy="232.0" r="1.4" fill="#111"/>
<circle cx="313.0" cy="238.6" r="1.4" fill="#111"/>
<circle cx="316.4" cy="236.4" r="1.4" fill="#111"/>
<rect x="331.4" y="226.3" width="2.5" height="2.5" fill="#111"/>
<circle cx="332.6" cy="236.6" r="1.4" fill="#111"/>
<rect x="331.4" y="240.3" width="2.5" height="2.5" fill="#111"/>
<path d="M350.6 220.0L352.1 222.7L349.1 222.7Z" fill="#111"/>
<path d="M350.6 226.8L352.1 229.5L349.1 229.5Z" fill="#111"/>
<path d="M350.6 248.8L352.1 251.5L349.1 251.5Z" fill="#111"/>
<circle cx="369.0" cy="256.4" r="1.4" fill="#111"/>
<path d="M372.6 251.4L374.1 254.1L371.1 254.1Z" fill="#111"/>
<circle cx="386.6" cy="237.0" r="1.4" fill="#111"/>
<circle cx="386.6" cy="243.0" r="1.4" fill="#111"/>
<line x1="424.4" y1="239.0" x2="513.2" y2="239.0" stroke="#cbcbcb" stroke-width="1.3"/>
<line x1="423.4" y1="200.6" x2="423.4" y2="261.6" stroke="#484848" stroke-width="1.1"/>
<line x1="422.9" y1="261.6" x2="513.2" y2="261.6" stroke="#484848" stroke-width="1.1"/>
<line x1="421.2" y1="201.4" x2="423.4" y2="201.4" stroke="#484848" stroke-width="0.8"/>
<text x="421.0" y="202.9" font-size="4.0" class="tk" text-anchor="end">100</text>
<line x1="421.2" y1="220.4" x2="423.4" y2="220.4" stroke="#484848" stroke-width="0.8"/>
<text x="421.0" y="221.9" font-size="4.0" class="tk" text-anchor="end">50</text>
<line x1="421.2" y1="239.0" x2="423.4" y2="239.0" stroke="#484848" stroke-width="0.8"/>
<text x="421.0" y="240.5" font-size="4.0" class="tk" text-anchor="end">0</text>
<line x1="421.2" y1="258.0" x2="423.4" y2="258.0" stroke="#484848" stroke-width="0.8"/>
<text x="421.0" y="259.5" font-size="4.0" class="tk" text-anchor="end">-50</text>
<line x1="431.9" y1="261.6" x2="431.9" y2="263.4" stroke="#484848" stroke-width="0.8"/>
<text x="431.9" y="267.8" font-size="4.0" class="tk" text-anchor="middle">0</text>
<line x1="449.9" y1="261.6" x2="449.9" y2="263.4" stroke="#484848" stroke-width="0.8"/>
<text x="449.9" y="267.8" font-size="4.0" class="tk" text-anchor="middle">3</text>
<line x1="467.9" y1="261.6" x2="467.9" y2="263.4" stroke="#484848" stroke-width="0.8"/>
<text x="467.9" y="267.8" font-size="4.0" class="tk" text-anchor="middle">10</text>
<line x1="485.9" y1="261.6" x2="485.9" y2="263.4" stroke="#484848" stroke-width="0.8"/>
<text x="485.9" y="267.8" font-size="4.0" class="tk" text-anchor="middle">30</text>
<line x1="503.9" y1="261.6" x2="503.9" y2="263.4" stroke="#484848" stroke-width="0.8"/>
<text x="503.9" y="267.8" font-size="4.0" class="tk" text-anchor="middle">60</text>
<line x1="426.4" y1="238.5" x2="438.4" y2="238.5" stroke="#444" stroke-width="1"/>
<line x1="444.0" y1="239.5" x2="456.0" y2="239.5" stroke="#444" stroke-width="1"/>
<line x1="462.0" y1="233.5" x2="474.0" y2="233.5" stroke="#444" stroke-width="1"/>
<line x1="480.0" y1="258.5" x2="492.0" y2="258.5" stroke="#444" stroke-width="1"/>
<line x1="498.0" y1="240.5" x2="510.0" y2="240.5" stroke="#444" stroke-width="1"/>
<circle cx="430.4" cy="233.6" r="1.4" fill="#111"/>
<circle cx="434.0" cy="237.0" r="1.4" fill="#111"/>
<circle cx="432.4" cy="245.6" r="1.4" fill="#111"/>
<rect x="448.8" y="235.2" width="2.5" height="2.5" fill="#111"/>
<circle cx="448.4" cy="242.6" r="1.4" fill="#111"/>
<circle cx="452.0" cy="240.0" r="1.4" fill="#111"/>
<path d="M468.0 218.4L469.5 221.1L466.5 221.1Z" fill="#111"/>
<path d="M468.0 229.0L469.5 231.7L466.5 231.7Z" fill="#111"/>
<path d="M468.0 247.8L469.5 250.5L466.5 250.5Z" fill="#111"/>
<circle cx="486.4" cy="258.0" r="1.4" fill="#111"/>
<path d="M490.0 253.0L491.5 255.7L488.5 255.7Z" fill="#111"/>
<circle cx="504.4" cy="229.0" r="1.4" fill="#111"/>
<circle cx="504.4" cy="251.0" r="1.4" fill="#111"/>
<line x1="70.6" y1="343.8" x2="159.4" y2="343.8" stroke="#cbcbcb" stroke-width="1.3"/>
<line x1="69.6" y1="299.5" x2="69.6" y2="351.0" stroke="#484848" stroke-width="1.1"/>
<line x1="69.1" y1="351.0" x2="159.4" y2="351.0" stroke="#484848" stroke-width="1.1"/>
<line x1="67.4" y1="303.2" x2="69.6" y2="303.2" stroke="#484848" stroke-width="0.8"/>
<text x="67.2" y="304.7" font-size="4.0" class="tk" text-anchor="end">200</text>
<line x1="67.4" y1="313.4" x2="69.6" y2="313.4" stroke="#484848" stroke-width="0.8"/>
<text x="67.2" y="314.9" font-size="4.0" class="tk" text-anchor="end">150</text>
<line x1="67.4" y1="323.4" x2="69.6" y2="323.4" stroke="#484848" stroke-width="0.8"/>
<text x="67.2" y="324.9" font-size="4.0" class="tk" text-anchor="end">100</text>
<line x1="67.4" y1="333.4" x2="69.6" y2="333.4" stroke="#484848" stroke-width="0.8"/>
<text x="67.2" y="334.9" font-size="4.0" class="tk" text-anchor="end">50</text>
<line x1="67.4" y1="343.4" x2="69.6" y2="343.4" stroke="#484848" stroke-width="0.8"/>
<text x="67.2" y="344.9" font-size="4.0" class="tk" text-anchor="end">0</text>
<path d="M67.4 291.2H69.6V295.1H67.4" fill="none" stroke="#484848" stroke-width="0.8"/>
<text x="67.2" y="292.2" font-size="4.0" class="tk" text-anchor="end">400</text>
<text x="67.2" y="297.0" font-size="4.0" class="tk" text-anchor="end">300</text>
<line x1="78.1" y1="351.0" x2="78.1" y2="352.8" stroke="#484848" stroke-width="0.8"/>
<text x="78.1" y="357.2" font-size="4.0" class="tk" text-anchor="middle">0</text>
<line x1="96.1" y1="351.0" x2="96.1" y2="352.8" stroke="#484848" stroke-width="0.8"/>
<text x="96.1" y="357.2" font-size="4.0" class="tk" text-anchor="middle">3</text>
<line x1="114.1" y1="351.0" x2="114.1" y2="352.8" stroke="#484848" stroke-width="0.8"/>
<text x="114.1" y="357.2" font-size="4.0" class="tk" text-anchor="middle">10</text>
<line x1="132.1" y1="351.0" x2="132.1" y2="352.8" stroke="#484848" stroke-width="0.8"/>
<text x="132.1" y="357.2" font-size="4.0" class="tk" text-anchor="middle">30</text>
<line x1="150.1" y1="351.0" x2="150.1" y2="352.8" stroke="#484848" stroke-width="0.8"/>
<text x="150.1" y="357.2" font-size="4.0" class="tk" text-anchor="middle">60</text>
<line x1="72.0" y1="344.5" x2="85.0" y2="344.5" stroke="#444" stroke-width="1"/>
<line x1="90.0" y1="333.5" x2="102.4" y2="333.5" stroke="#444" stroke-width="1"/>
<line x1="108.0" y1="328.5" x2="120.4" y2="328.5" stroke="#444" stroke-width="1"/>
<line x1="126.0" y1="337.5" x2="138.4" y2="337.5" stroke="#444" stroke-width="1"/>
<line x1="144.6" y1="294.5" x2="157.0" y2="294.5" stroke="#444" stroke-width="1"/>
<circle cx="78.6" cy="336.6" r="1.4" fill="#111"/>
<circle cx="80.6" cy="346.6" r="1.4" fill="#111"/>
<circle cx="77.0" cy="349.0" r="1.4" fill="#111"/>
<rect x="93.3" y="328.4" width="2.5" height="2.5" fill="#111"/>
<rect x="97.2" y="328.4" width="2.5" height="2.5" fill="#111"/>
<rect x="95.2" y="338.8" width="2.5" height="2.5" fill="#111"/>
<path d="M114.6 312.8L116.1 315.5L113.1 315.5Z" fill="#111"/>
<path d="M116.6 333.8L118.1 336.5L115.1 336.5Z" fill="#111"/>
<circle cx="113.0" cy="338.4" r="1.4" fill="#111"/>
<circle cx="133.0" cy="337.0" r="1.4" fill="#111"/>
<path d="M136.4 329.0L137.9 331.7L134.9 331.7Z" fill="#111"/>
<circle cx="150.6" cy="291.4" r="1.4" fill="#111"/>
<circle cx="150.6" cy="306.0" r="1.4" fill="#111"/>
<line x1="190.4" y1="343.6" x2="279.2" y2="343.6" stroke="#cbcbcb" stroke-width="1.3"/>
<line x1="189.4" y1="290.0" x2="189.4" y2="351.0" stroke="#484848" stroke-width="1.1"/>
<line x1="188.9" y1="351.0" x2="279.2" y2="351.0" stroke="#484848" stroke-width="1.1"/>
<line x1="187.2" y1="291.6" x2="189.4" y2="291.6" stroke="#484848" stroke-width="0.8"/>
<text x="187.0" y="293.1" font-size="4.0" class="tk" text-anchor="end">250</text>
<line x1="187.2" y1="302.0" x2="189.4" y2="302.0" stroke="#484848" stroke-width="0.8"/>
<text x="187.0" y="303.5" font-size="4.0" class="tk" text-anchor="end">200</text>
<line x1="187.2" y1="312.0" x2="189.4" y2="312.0" stroke="#484848" stroke-width="0.8"/>
<text x="187.0" y="313.5" font-size="4.0" class="tk" text-anchor="end">150</text>
<line x1="187.2" y1="322.4" x2="189.4" y2="322.4" stroke="#484848" stroke-width="0.8"/>
<text x="187.0" y="323.9" font-size="4.0" class="tk" text-anchor="end">100</text>
<line x1="187.2" y1="333.0" x2="189.4" y2="333.0" stroke="#484848" stroke-width="0.8"/>
<text x="187.0" y="334.5" font-size="4.0" class="tk" text-anchor="end">50</text>
<line x1="187.2" y1="343.4" x2="189.4" y2="343.4" stroke="#484848" stroke-width="0.8"/>
<text x="187.0" y="344.9" font-size="4.0" class="tk" text-anchor="end">0</text>
<line x1="197.9" y1="351.0" x2="197.9" y2="352.8" stroke="#484848" stroke-width="0.8"/>
<text x="197.9" y="357.2" font-size="4.0" class="tk" text-anchor="middle">0</text>
<line x1="215.9" y1="351.0" x2="215.9" y2="352.8" stroke="#484848" stroke-width="0.8"/>
<text x="215.9" y="357.2" font-size="4.0" class="tk" text-anchor="middle">3</text>
<line x1="233.9" y1="351.0" x2="233.9" y2="352.8" stroke="#484848" stroke-width="0.8"/>
<text x="233.9" y="357.2" font-size="4.0" class="tk" text-anchor="middle">10</text>
<line x1="251.9" y1="351.0" x2="251.9" y2="352.8" stroke="#484848" stroke-width="0.8"/>
<text x="251.9" y="357.2" font-size="4.0" class="tk" text-anchor="middle">30</text>
<line x1="269.9" y1="351.0" x2="269.9" y2="352.8" stroke="#484848" stroke-width="0.8"/>
<text x="269.9" y="357.2" font-size="4.0" class="tk" text-anchor="middle">60</text>
<line x1="192.0" y1="342.5" x2="204.6" y2="342.5" stroke="#444" stroke-width="1"/>
<line x1="210.4" y1="338.5" x2="222.8" y2="338.5" stroke="#444" stroke-width="1"/>
<line x1="228.4" y1="334.5" x2="240.8" y2="334.5" stroke="#444" stroke-width="1"/>
<line x1="246.4" y1="336.5" x2="258.8" y2="336.5" stroke="#444" stroke-width="1"/>
<line x1="264.4" y1="321.5" x2="276.8" y2="321.5" stroke="#444" stroke-width="1"/>
<path d="M195.0 339.4L196.5 342.1L193.5 342.1Z" fill="#111"/>
<circle cx="198.6" cy="343.6" r="1.4" fill="#111"/>
<circle cx="202.0" cy="343.0" r="1.4" fill="#111"/>
<rect x="215.3" y="333.1" width="2.5" height="2.5" fill="#111"/>
<circle cx="216.6" cy="338.4" r="1.4" fill="#111"/>
<rect x="215.3" y="342.4" width="2.5" height="2.5" fill="#111"/>
<path d="M231.4 332.0L232.9 334.7L229.9 334.7Z" fill="#111"/>
<path d="M235.0 335.0L236.5 337.7L233.5 337.7Z" fill="#111"/>
<path d="M238.6 332.4L240.1 335.1L237.1 335.1Z" fill="#111"/>
<circle cx="252.6" cy="336.0" r="1.4" fill="#111"/>
<path d="M257.4 328.8L258.9 331.5L255.9 331.5Z" fill="#111"/>
<circle cx="270.6" cy="318.0" r="1.4" fill="#111"/>
<circle cx="270.6" cy="325.0" r="1.4" fill="#111"/>
<line x1="306.6" y1="343.8" x2="395.4" y2="343.8" stroke="#cbcbcb" stroke-width="1.3"/>
<line x1="305.6" y1="299.0" x2="305.6" y2="351.0" stroke="#484848" stroke-width="1.1"/>
<line x1="305.1" y1="351.0" x2="395.4" y2="351.0" stroke="#484848" stroke-width="1.1"/>
<line x1="303.4" y1="303.0" x2="305.6" y2="303.0" stroke="#484848" stroke-width="0.8"/>
<text x="303.2" y="304.5" font-size="4.0" class="tk" text-anchor="end">200</text>
<line x1="303.4" y1="313.0" x2="305.6" y2="313.0" stroke="#484848" stroke-width="0.8"/>
<text x="303.2" y="314.5" font-size="4.0" class="tk" text-anchor="end">150</text>
<line x1="303.4" y1="323.0" x2="305.6" y2="323.0" stroke="#484848" stroke-width="0.8"/>
<text x="303.2" y="324.5" font-size="4.0" class="tk" text-anchor="end">100</text>
<line x1="303.4" y1="333.0" x2="305.6" y2="333.0" stroke="#484848" stroke-width="0.8"/>
<text x="303.2" y="334.5" font-size="4.0" class="tk" text-anchor="end">50</text>
<line x1="303.4" y1="343.4" x2="305.6" y2="343.4" stroke="#484848" stroke-width="0.8"/>
<text x="303.2" y="344.9" font-size="4.0" class="tk" text-anchor="end">0</text>
<path d="M303.4 290.6H305.6V294.4H303.4" fill="none" stroke="#484848" stroke-width="0.8"/>
<text x="303.2" y="291.6" font-size="4.0" class="tk" text-anchor="end">400</text>
<text x="303.2" y="296.3" font-size="4.0" class="tk" text-anchor="end">350</text>
<line x1="314.1" y1="351.0" x2="314.1" y2="352.8" stroke="#484848" stroke-width="0.8"/>
<text x="314.1" y="357.2" font-size="4.0" class="tk" text-anchor="middle">0</text>
<line x1="332.1" y1="351.0" x2="332.1" y2="352.8" stroke="#484848" stroke-width="0.8"/>
<text x="332.1" y="357.2" font-size="4.0" class="tk" text-anchor="middle">3</text>
<line x1="350.1" y1="351.0" x2="350.1" y2="352.8" stroke="#484848" stroke-width="0.8"/>
<text x="350.1" y="357.2" font-size="4.0" class="tk" text-anchor="middle">10</text>
<line x1="368.1" y1="351.0" x2="368.1" y2="352.8" stroke="#484848" stroke-width="0.8"/>
<text x="368.1" y="357.2" font-size="4.0" class="tk" text-anchor="middle">30</text>
<line x1="386.1" y1="351.0" x2="386.1" y2="352.8" stroke="#484848" stroke-width="0.8"/>
<text x="386.1" y="357.2" font-size="4.0" class="tk" text-anchor="middle">60</text>
<line x1="308.4" y1="344.5" x2="320.8" y2="344.5" stroke="#444" stroke-width="1"/>
<line x1="326.4" y1="337.5" x2="338.8" y2="337.5" stroke="#444" stroke-width="1"/>
<line x1="344.4" y1="319.5" x2="356.8" y2="319.5" stroke="#444" stroke-width="1"/>
<line x1="362.4" y1="338.5" x2="374.8" y2="338.5" stroke="#444" stroke-width="1"/>
<line x1="381.0" y1="300.5" x2="393.0" y2="300.5" stroke="#444" stroke-width="1"/>
<circle cx="314.6" cy="340.0" r="1.4" fill="#111"/>
<circle cx="316.6" cy="345.4" r="1.4" fill="#111"/>
<circle cx="313.0" cy="346.6" r="1.4" fill="#111"/>
<rect x="331.4" y="329.4" width="2.5" height="2.5" fill="#111"/>
<rect x="331.4" y="333.4" width="2.5" height="2.5" fill="#111"/>
<rect x="331.4" y="345.4" width="2.5" height="2.5" fill="#111"/>
<path d="M350.6 298.4L352.1 301.1L349.1 301.1Z" fill="#111"/>
<path d="M350.6 324.8L352.1 327.5L349.1 327.5Z" fill="#111"/>
<path d="M350.6 330.8L352.1 333.5L349.1 333.5Z" fill="#111"/>
<circle cx="369.0" cy="338.0" r="1.4" fill="#111"/>
<path d="M373.0 330.4L374.5 333.1L371.5 333.1Z" fill="#111"/>
<circle cx="387.0" cy="294.4" r="1.4" fill="#111"/>
<circle cx="387.0" cy="321.0" r="1.4" fill="#111"/>
<line x1="423.6" y1="343.4" x2="512.4" y2="343.4" stroke="#cbcbcb" stroke-width="1.3"/>
<line x1="422.6" y1="290.0" x2="422.6" y2="351.0" stroke="#484848" stroke-width="1.1"/>
<line x1="422.1" y1="351.0" x2="512.4" y2="351.0" stroke="#484848" stroke-width="1.1"/>
<line x1="420.4" y1="291.0" x2="422.6" y2="291.0" stroke="#484848" stroke-width="0.8"/>
<text x="420.2" y="292.5" font-size="4.0" class="tk" text-anchor="end">250</text>
<line x1="420.4" y1="301.4" x2="422.6" y2="301.4" stroke="#484848" stroke-width="0.8"/>
<text x="420.2" y="302.9" font-size="4.0" class="tk" text-anchor="end">200</text>
<line x1="420.4" y1="311.6" x2="422.6" y2="311.6" stroke="#484848" stroke-width="0.8"/>
<text x="420.2" y="313.1" font-size="4.0" class="tk" text-anchor="end">150</text>
<line x1="420.4" y1="322.0" x2="422.6" y2="322.0" stroke="#484848" stroke-width="0.8"/>
<text x="420.2" y="323.5" font-size="4.0" class="tk" text-anchor="end">100</text>
<line x1="420.4" y1="332.6" x2="422.6" y2="332.6" stroke="#484848" stroke-width="0.8"/>
<text x="420.2" y="334.1" font-size="4.0" class="tk" text-anchor="end">50</text>
<line x1="420.4" y1="343.0" x2="422.6" y2="343.0" stroke="#484848" stroke-width="0.8"/>
<text x="420.2" y="344.5" font-size="4.0" class="tk" text-anchor="end">0</text>
<line x1="431.1" y1="351.0" x2="431.1" y2="352.8" stroke="#484848" stroke-width="0.8"/>
<text x="431.1" y="357.2" font-size="4.0" class="tk" text-anchor="middle">0</text>
<line x1="449.1" y1="351.0" x2="449.1" y2="352.8" stroke="#484848" stroke-width="0.8"/>
<text x="449.1" y="357.2" font-size="4.0" class="tk" text-anchor="middle">3</text>
<line x1="467.1" y1="351.0" x2="467.1" y2="352.8" stroke="#484848" stroke-width="0.8"/>
<text x="467.1" y="357.2" font-size="4.0" class="tk" text-anchor="middle">10</text>
<line x1="485.1" y1="351.0" x2="485.1" y2="352.8" stroke="#484848" stroke-width="0.8"/>
<text x="485.1" y="357.2" font-size="4.0" class="tk" text-anchor="middle">30</text>
<line x1="503.1" y1="351.0" x2="503.1" y2="352.8" stroke="#484848" stroke-width="0.8"/>
<text x="503.1" y="357.2" font-size="4.0" class="tk" text-anchor="middle">60</text>
<line x1="425.0" y1="342.5" x2="438.0" y2="342.5" stroke="#444" stroke-width="1"/>
<line x1="444.0" y1="337.5" x2="456.4" y2="337.5" stroke="#444" stroke-width="1"/>
<line x1="462.0" y1="328.5" x2="474.4" y2="328.5" stroke="#444" stroke-width="1"/>
<line x1="480.0" y1="344.5" x2="492.4" y2="344.5" stroke="#444" stroke-width="1"/>
<line x1="498.0" y1="321.5" x2="510.4" y2="321.5" stroke="#444" stroke-width="1"/>
<path d="M428.4 340.4L429.9 343.1L426.9 343.1Z" fill="#111"/>
<circle cx="432.0" cy="343.6" r="1.4" fill="#111"/>
<circle cx="435.4" cy="342.0" r="1.4" fill="#111"/>
<rect x="446.8" y="333.1" width="2.5" height="2.5" fill="#111"/>
<circle cx="451.6" cy="336.6" r="1.4" fill="#111"/>
<rect x="448.8" y="340.8" width="2.5" height="2.5" fill="#111"/>
<path d="M466.0 323.4L467.5 326.1L464.5 326.1Z" fill="#111"/>
<path d="M469.6 325.4L471.1 328.1L468.1 328.1Z" fill="#111"/>
<circle cx="467.6" cy="334.4" r="1.4" fill="#111"/>
<circle cx="486.0" cy="344.0" r="1.4" fill="#111"/>
<path d="M490.6 335.4L492.1 338.1L489.1 338.1Z" fill="#111"/>
<circle cx="502.0" cy="322.0" r="1.4" fill="#111"/>
<circle cx="505.6" cy="320.4" r="1.4" fill="#111"/>
<line x1="67.4" y1="381.0" x2="67.4" y2="443.0" stroke="#484848" stroke-width="1.1"/>
<line x1="66.9" y1="443.0" x2="157.2" y2="443.0" stroke="#484848" stroke-width="1.1"/>
<line x1="65.2" y1="382.0" x2="67.4" y2="382.0" stroke="#484848" stroke-width="0.8"/>
<text x="65.0" y="383.5" font-size="4.0" class="tk" text-anchor="end">100</text>
<line x1="65.2" y1="394.4" x2="67.4" y2="394.4" stroke="#484848" stroke-width="0.8"/>
<text x="65.0" y="395.9" font-size="4.0" class="tk" text-anchor="end">80</text>
<line x1="65.2" y1="406.4" x2="67.4" y2="406.4" stroke="#484848" stroke-width="0.8"/>
<text x="65.0" y="407.9" font-size="4.0" class="tk" text-anchor="end">60</text>
<line x1="65.2" y1="418.4" x2="67.4" y2="418.4" stroke="#484848" stroke-width="0.8"/>
<text x="65.0" y="419.9" font-size="4.0" class="tk" text-anchor="end">40</text>
<line x1="65.2" y1="430.4" x2="67.4" y2="430.4" stroke="#484848" stroke-width="0.8"/>
<text x="65.0" y="431.9" font-size="4.0" class="tk" text-anchor="end">20</text>
<line x1="65.2" y1="442.6" x2="67.4" y2="442.6" stroke="#484848" stroke-width="0.8"/>
<text x="65.0" y="444.1" font-size="4.0" class="tk" text-anchor="end">0</text>
<line x1="76.5" y1="443.0" x2="76.5" y2="444.8" stroke="#484848" stroke-width="0.8"/>
<text x="76.5" y="449.2" font-size="4.0" class="tk" text-anchor="middle">0</text>
<line x1="95.0" y1="443.0" x2="95.0" y2="444.8" stroke="#484848" stroke-width="0.8"/>
<text x="95.0" y="449.2" font-size="4.0" class="tk" text-anchor="middle">3</text>
<line x1="113.0" y1="443.0" x2="113.0" y2="444.8" stroke="#484848" stroke-width="0.8"/>
<text x="113.0" y="449.2" font-size="4.0" class="tk" text-anchor="middle">10</text>
<line x1="131.6" y1="443.0" x2="131.6" y2="444.8" stroke="#484848" stroke-width="0.8"/>
<text x="131.6" y="449.2" font-size="4.0" class="tk" text-anchor="middle">30</text>
<line x1="150.0" y1="443.0" x2="150.0" y2="444.8" stroke="#484848" stroke-width="0.8"/>
<text x="150.0" y="449.2" font-size="4.0" class="tk" text-anchor="middle">60</text>
<line x1="70.4" y1="442.5" x2="83.4" y2="442.5" stroke="#444" stroke-width="1"/>
<line x1="89.0" y1="441.5" x2="101.0" y2="441.5" stroke="#444" stroke-width="1"/>
<line x1="107.0" y1="441.5" x2="119.0" y2="441.5" stroke="#444" stroke-width="1"/>
<line x1="125.4" y1="435.5" x2="137.4" y2="435.5" stroke="#444" stroke-width="1"/>
<line x1="144.0" y1="434.5" x2="156.0" y2="434.5" stroke="#444" stroke-width="1"/>
<circle cx="73.4" cy="442.0" r="1.4" fill="#111"/>
<circle cx="77.0" cy="443.0" r="1.4" fill="#111"/>
<circle cx="80.4" cy="443.0" r="1.4" fill="#111"/>
<rect x="90.3" y="437.8" width="2.5" height="2.5" fill="#111"/>
<circle cx="95.0" cy="442.4" r="1.4" fill="#111"/>
<circle cx="98.6" cy="442.0" r="1.4" fill="#111"/>
<path d="M110.0 438.4L111.5 441.1L108.5 441.1Z" fill="#111"/>
<circle cx="113.4" cy="441.6" r="1.4" fill="#111"/>
<circle cx="117.0" cy="441.0" r="1.4" fill="#111"/>
<circle cx="131.6" cy="435.0" r="1.4" fill="#111"/>
<path d="M134.6 429.0L136.1 431.7L133.1 431.7Z" fill="#111"/>
<circle cx="150.0" cy="431.0" r="1.4" fill="#111"/>
<circle cx="150.0" cy="438.0" r="1.4" fill="#111"/>
<line x1="188.0" y1="382.0" x2="188.0" y2="443.0" stroke="#484848" stroke-width="1.1"/>
<line x1="187.5" y1="443.0" x2="277.8" y2="443.0" stroke="#484848" stroke-width="1.1"/>
<line x1="185.8" y1="382.4" x2="188.0" y2="382.4" stroke="#484848" stroke-width="0.8"/>
<text x="185.6" y="383.9" font-size="4.0" class="tk" text-anchor="end">100</text>
<line x1="185.8" y1="394.4" x2="188.0" y2="394.4" stroke="#484848" stroke-width="0.8"/>
<text x="185.6" y="395.9" font-size="4.0" class="tk" text-anchor="end">80</text>
<line x1="185.8" y1="406.4" x2="188.0" y2="406.4" stroke="#484848" stroke-width="0.8"/>
<text x="185.6" y="407.9" font-size="4.0" class="tk" text-anchor="end">60</text>
<line x1="185.8" y1="418.6" x2="188.0" y2="418.6" stroke="#484848" stroke-width="0.8"/>
<text x="185.6" y="420.1" font-size="4.0" class="tk" text-anchor="end">40</text>
<line x1="185.8" y1="430.6" x2="188.0" y2="430.6" stroke="#484848" stroke-width="0.8"/>
<text x="185.6" y="432.1" font-size="4.0" class="tk" text-anchor="end">20</text>
<line x1="185.8" y1="443.0" x2="188.0" y2="443.0" stroke="#484848" stroke-width="0.8"/>
<text x="185.6" y="444.5" font-size="4.0" class="tk" text-anchor="end">0</text>
<line x1="197.4" y1="443.0" x2="197.4" y2="444.8" stroke="#484848" stroke-width="0.8"/>
<text x="197.4" y="449.2" font-size="4.0" class="tk" text-anchor="middle">0</text>
<line x1="215.6" y1="443.0" x2="215.6" y2="444.8" stroke="#484848" stroke-width="0.8"/>
<text x="215.6" y="449.2" font-size="4.0" class="tk" text-anchor="middle">3</text>
<line x1="234.0" y1="443.0" x2="234.0" y2="444.8" stroke="#484848" stroke-width="0.8"/>
<text x="234.0" y="449.2" font-size="4.0" class="tk" text-anchor="middle">10</text>
<line x1="252.0" y1="443.0" x2="252.0" y2="444.8" stroke="#484848" stroke-width="0.8"/>
<text x="252.0" y="449.2" font-size="4.0" class="tk" text-anchor="middle">30</text>
<line x1="270.0" y1="443.0" x2="270.0" y2="444.8" stroke="#484848" stroke-width="0.8"/>
<text x="270.0" y="449.2" font-size="4.0" class="tk" text-anchor="middle">60</text>
<line x1="191.0" y1="441.5" x2="203.6" y2="441.5" stroke="#444" stroke-width="1"/>
<line x1="209.6" y1="441.5" x2="221.6" y2="441.5" stroke="#444" stroke-width="1"/>
<line x1="228.0" y1="438.5" x2="240.0" y2="438.5" stroke="#444" stroke-width="1"/>
<line x1="245.4" y1="433.5" x2="257.4" y2="433.5" stroke="#444" stroke-width="1"/>
<line x1="264.0" y1="437.5" x2="276.0" y2="437.5" stroke="#444" stroke-width="1"/>
<rect x="192.8" y="438.8" width="2.5" height="2.5" fill="#111"/>
<circle cx="197.4" cy="442.6" r="1.4" fill="#111"/>
<circle cx="201.0" cy="441.6" r="1.4" fill="#111"/>
<rect x="210.8" y="439.1" width="2.5" height="2.5" fill="#111"/>
<circle cx="215.6" cy="443.0" r="1.4" fill="#111"/>
<circle cx="219.4" cy="442.4" r="1.4" fill="#111"/>
<path d="M230.0 436.4L231.5 439.1L228.5 439.1Z" fill="#111"/>
<path d="M233.6 438.0L235.1 440.7L232.1 440.7Z" fill="#111"/>
<path d="M238.0 436.8L239.5 439.5L236.5 439.5Z" fill="#111"/>
<circle cx="251.6" cy="433.6" r="1.4" fill="#111"/>
<path d="M254.6 427.0L256.1 429.7L253.1 429.7Z" fill="#111"/>
<circle cx="268.4" cy="437.4" r="1.4" fill="#111"/>
<circle cx="272.0" cy="436.4" r="1.4" fill="#111"/>
<line x1="305.0" y1="382.4" x2="305.0" y2="443.4" stroke="#484848" stroke-width="1.1"/>
<line x1="304.5" y1="443.4" x2="394.8" y2="443.4" stroke="#484848" stroke-width="1.1"/>
<line x1="302.8" y1="382.6" x2="305.0" y2="382.6" stroke="#484848" stroke-width="0.8"/>
<text x="302.6" y="384.1" font-size="4.0" class="tk" text-anchor="end">100</text>
<line x1="302.8" y1="394.6" x2="305.0" y2="394.6" stroke="#484848" stroke-width="0.8"/>
<text x="302.6" y="396.1" font-size="4.0" class="tk" text-anchor="end">80</text>
<line x1="302.8" y1="406.6" x2="305.0" y2="406.6" stroke="#484848" stroke-width="0.8"/>
<text x="302.6" y="408.1" font-size="4.0" class="tk" text-anchor="end">60</text>
<line x1="302.8" y1="419.0" x2="305.0" y2="419.0" stroke="#484848" stroke-width="0.8"/>
<text x="302.6" y="420.5" font-size="4.0" class="tk" text-anchor="end">40</text>
<line x1="302.8" y1="431.0" x2="305.0" y2="431.0" stroke="#484848" stroke-width="0.8"/>
<text x="302.6" y="432.5" font-size="4.0" class="tk" text-anchor="end">20</text>
<line x1="302.8" y1="443.0" x2="305.0" y2="443.0" stroke="#484848" stroke-width="0.8"/>
<text x="302.6" y="444.5" font-size="4.0" class="tk" text-anchor="end">0</text>
<line x1="314.0" y1="443.4" x2="314.0" y2="445.2" stroke="#484848" stroke-width="0.8"/>
<text x="314.0" y="449.6" font-size="4.0" class="tk" text-anchor="middle">0</text>
<line x1="332.0" y1="443.4" x2="332.0" y2="445.2" stroke="#484848" stroke-width="0.8"/>
<text x="332.0" y="449.6" font-size="4.0" class="tk" text-anchor="middle">3</text>
<line x1="350.6" y1="443.4" x2="350.6" y2="445.2" stroke="#484848" stroke-width="0.8"/>
<text x="350.6" y="449.6" font-size="4.0" class="tk" text-anchor="middle">10</text>
<line x1="368.6" y1="443.4" x2="368.6" y2="445.2" stroke="#484848" stroke-width="0.8"/>
<text x="368.6" y="449.6" font-size="4.0" class="tk" text-anchor="middle">30</text>
<line x1="386.6" y1="443.4" x2="386.6" y2="445.2" stroke="#484848" stroke-width="0.8"/>
<text x="386.6" y="449.6" font-size="4.0" class="tk" text-anchor="middle">60</text>
<circle cx="310.4" cy="442.4" r="1.4" fill="#111"/>
<circle cx="314.0" cy="442.4" r="1.4" fill="#111"/>
<circle cx="317.6" cy="442.4" r="1.4" fill="#111"/>
<rect x="327.1" y="441.1" width="2.5" height="2.5" fill="#111"/>
<rect x="330.8" y="441.1" width="2.5" height="2.5" fill="#111"/>
<rect x="334.8" y="441.1" width="2.5" height="2.5" fill="#111"/>
<circle cx="347.0" cy="442.4" r="1.4" fill="#111"/>
<circle cx="350.6" cy="442.4" r="1.4" fill="#111"/>
<circle cx="354.0" cy="442.4" r="1.4" fill="#111"/>
<circle cx="368.6" cy="442.4" r="1.4" fill="#111"/>
<path d="M371.0 436.8L372.5 439.5L369.5 439.5Z" fill="#111"/>
<circle cx="385.0" cy="442.4" r="1.4" fill="#111"/>
<circle cx="389.0" cy="442.4" r="1.4" fill="#111"/>
<line x1="422.0" y1="382.0" x2="422.0" y2="443.0" stroke="#484848" stroke-width="1.1"/>
<line x1="421.5" y1="443.0" x2="511.8" y2="443.0" stroke="#484848" stroke-width="1.1"/>
<line x1="419.8" y1="382.4" x2="422.0" y2="382.4" stroke="#484848" stroke-width="0.8"/>
<text x="419.6" y="383.9" font-size="4.0" class="tk" text-anchor="end">100</text>
<line x1="419.8" y1="394.4" x2="422.0" y2="394.4" stroke="#484848" stroke-width="0.8"/>
<text x="419.6" y="395.9" font-size="4.0" class="tk" text-anchor="end">80</text>
<line x1="419.8" y1="406.4" x2="422.0" y2="406.4" stroke="#484848" stroke-width="0.8"/>
<text x="419.6" y="407.9" font-size="4.0" class="tk" text-anchor="end">60</text>
<line x1="419.8" y1="418.6" x2="422.0" y2="418.6" stroke="#484848" stroke-width="0.8"/>
<text x="419.6" y="420.1" font-size="4.0" class="tk" text-anchor="end">40</text>
<line x1="419.8" y1="430.6" x2="422.0" y2="430.6" stroke="#484848" stroke-width="0.8"/>
<text x="419.6" y="432.1" font-size="4.0" class="tk" text-anchor="end">20</text>
<line x1="419.8" y1="443.0" x2="422.0" y2="443.0" stroke="#484848" stroke-width="0.8"/>
<text x="419.6" y="444.5" font-size="4.0" class="tk" text-anchor="end">0</text>
<line x1="432.0" y1="443.0" x2="432.0" y2="444.8" stroke="#484848" stroke-width="0.8"/>
<text x="432.0" y="449.2" font-size="4.0" class="tk" text-anchor="middle">0</text>
<line x1="449.6" y1="443.0" x2="449.6" y2="444.8" stroke="#484848" stroke-width="0.8"/>
<text x="449.6" y="449.2" font-size="4.0" class="tk" text-anchor="middle">3</text>
<line x1="468.0" y1="443.0" x2="468.0" y2="444.8" stroke="#484848" stroke-width="0.8"/>
<text x="468.0" y="449.2" font-size="4.0" class="tk" text-anchor="middle">10</text>
<line x1="486.0" y1="443.0" x2="486.0" y2="444.8" stroke="#484848" stroke-width="0.8"/>
<text x="486.0" y="449.2" font-size="4.0" class="tk" text-anchor="middle">30</text>
<line x1="504.0" y1="443.0" x2="504.0" y2="444.8" stroke="#484848" stroke-width="0.8"/>
<text x="504.0" y="449.2" font-size="4.0" class="tk" text-anchor="middle">60</text>
<line x1="480.0" y1="441.5" x2="492.0" y2="441.5" stroke="#444" stroke-width="1"/>
<line x1="498.0" y1="441.5" x2="510.0" y2="441.5" stroke="#444" stroke-width="1"/>
<circle cx="428.0" cy="441.4" r="1.4" fill="#111"/>
<circle cx="431.4" cy="442.6" r="1.4" fill="#111"/>
<circle cx="435.0" cy="442.4" r="1.4" fill="#111"/>
<rect x="444.8" y="440.1" width="2.5" height="2.5" fill="#111"/>
<circle cx="449.6" cy="442.6" r="1.4" fill="#111"/>
<circle cx="453.4" cy="442.4" r="1.4" fill="#111"/>
<path d="M464.6 438.0L466.1 440.7L463.1 440.7Z" fill="#111"/>
<circle cx="468.0" cy="442.6" r="1.4" fill="#111"/>
<path d="M472.0 439.4L473.5 442.1L470.5 442.1Z" fill="#111"/>
<circle cx="486.0" cy="441.6" r="1.4" fill="#111"/>
<path d="M489.0 436.4L490.5 439.1L487.5 439.1Z" fill="#111"/>
<circle cx="502.4" cy="442.0" r="1.4" fill="#111"/>
<circle cx="506.0" cy="441.6" r="1.4" fill="#111"/>
<text x="16.0" y="12.4" font-size="14" text-anchor="start" style='font-family:"Liberation Sans", sans-serif;font-weight:bold' >A</text>
<text x="112.6" y="10.4" font-size="9.25" text-anchor="middle" style='font-family:"Liberation Sans", sans-serif;font-weight:normal' >CD4 Naive</text>
<text x="232.5" y="10.4" font-size="9.25" text-anchor="middle" style='font-family:"Liberation Sans", sans-serif;font-weight:normal' >CD4 Memory</text>
<text x="348.5" y="10.4" font-size="9.25" text-anchor="middle" style='font-family:"Liberation Sans", sans-serif;font-weight:normal' >CD8 Naive</text>
<text x="466.3" y="10.4" font-size="9.25" text-anchor="middle" style='font-family:"Liberation Sans", sans-serif;font-weight:normal' >CD8 Memory</text>
<text x="22" y="34.7" font-size="12.5" text-anchor="middle" style='font-family:"Liberation Serif", serif;font-weight:normal' >&#945;4&#946;7</text>
<text x="21.3" y="120.3" font-size="9.3" text-anchor="middle" style='font-family:"Liberation Sans", sans-serif;font-weight:normal' >CXCR4</text>
<text x="21.5" y="129.9" font-size="9.5" text-anchor="middle" style='font-family:"Liberation Sans", sans-serif;font-weight:normal' >(CD184)</text>
<text x="21.1" y="206.2" font-size="9.4" text-anchor="middle" style='font-family:"Liberation Sans", sans-serif;font-weight:normal' >CD127</text>
<text x="21.2" y="297.0" font-size="9.4" text-anchor="middle" style='font-family:"Liberation Sans", sans-serif;font-weight:normal' >CD95</text>
<text x="21.2" y="388.4" font-size="9.4" text-anchor="middle" style='font-family:"Liberation Sans", sans-serif;font-weight:normal' >CD25</text>
<text transform="translate(48.0,54.3) rotate(-90)" font-size="7.4" text-anchor="middle">MFI increase over</text>
<text transform="translate(55.3,54.3) rotate(-90)" font-size="7.4" text-anchor="middle">baseline (%)</text>
<text transform="translate(47.4,142.5) rotate(-90)" font-size="7.4" text-anchor="middle">MFI increase over</text>
<text transform="translate(54.7,142.5) rotate(-90)" font-size="7.4" text-anchor="middle">baseline (%)</text>
<text transform="translate(47.4,229.6) rotate(-90)" font-size="7.4" text-anchor="middle">MFI increase over</text>
<text transform="translate(54.7,229.6) rotate(-90)" font-size="7.4" text-anchor="middle">baseline (%)</text>
<text transform="translate(47.4,320.4) rotate(-90)" font-size="7.4" text-anchor="middle">MFI increase over</text>
<text transform="translate(54.7,320.4) rotate(-90)" font-size="7.4" text-anchor="middle">baseline (%)</text>
<text transform="translate(47.4,411.1) rotate(-90)" font-size="7.4" text-anchor="middle">% positive cells</text>
<text transform="translate(55.2,411.1) rotate(-90)" font-size="7.4" text-anchor="middle">increase (%)</text>
<text x="110.6" y="462.3" font-size="9.5" text-anchor="middle" style='font-family:"Liberation Sans", sans-serif;font-weight:normal' >IL-7 &#956;g/kg</text>
<text x="232.9" y="462.3" font-size="9.5" text-anchor="middle" style='font-family:"Liberation Sans", sans-serif;font-weight:normal' >IL-7 &#956;g/kg</text>
<text x="349.4" y="462.3" font-size="9.5" text-anchor="middle" style='font-family:"Liberation Sans", sans-serif;font-weight:normal' >IL-7 &#956;g/kg</text>
<text x="466.7" y="462.3" font-size="9.5" text-anchor="middle" style='font-family:"Liberation Sans", sans-serif;font-weight:normal' >IL-7 &#956;g/kg</text>
<text x="16.6" y="494.3" font-size="14" text-anchor="start" style='font-family:"Liberation Sans", sans-serif;font-weight:bold' >B</text>
<text x="98.7" y="496" font-size="9" text-anchor="middle" style='font-family:"Liberation Sans", sans-serif;font-weight:normal' >Naive</text>
<text x="171.9" y="496" font-size="9" text-anchor="middle" style='font-family:"Liberation Sans", sans-serif;font-weight:normal' >Memory</text>
<text x="63.6" y="510.7" font-size="9.0" text-anchor="end" style='font-family:"Liberation Sans", sans-serif;font-weight:normal' >Pt. 4</text>
<text x="64.0" y="521.6" font-size="9.5" text-anchor="end" style='font-family:"Liberation Sans", sans-serif;font-weight:normal' >(3 &#956;g/kg)</text>
<text x="63.6" y="560.9" font-size="9.0" text-anchor="end" style='font-family:"Liberation Sans", sans-serif;font-weight:normal' >Pt. 11</text>
<text x="64.0" y="571.6" font-size="9.5" text-anchor="end" style='font-family:"Liberation Sans", sans-serif;font-weight:normal' >(60 &#956;g/kg)</text>
<text x="69.4" y="602.2" font-size="8.9" text-anchor="start" style='font-family:"Liberation Sans", sans-serif;font-weight:normal' >&#945;4&#946;7(Act-1)</text>
<line x1="67.9" y1="593.3" x2="118.5" y2="593.3" stroke="#222" stroke-width="0.8"/>
<path d="M120.2 593.3L116.8 591.6L117.6 593.3L116.8 595Z" fill="#222"/>
<polygon points="72.8,537.0 73.8,536.8 78.1,533.8 81.9,529.4 84.4,525.0 86.3,521.3 88.2,516.9 89.7,512.5 91.3,508.8 93.2,505.6 94.7,502.8 95.6,500.2 98.4,500.2 99.2,507.0 101.0,516.1 102.8,524.2 104.6,529.6 106.9,533.7 109.6,536.0 111.4,537.0" fill="#6f6f6f"/>
<polyline points="72.5,536.9 76.3,531.9 79.4,528.2 81.9,525.0 83.5,521.9 85.0,518.2 86.6,514.4 88.2,510.6 89.4,507.5 91.0,506.6 92.5,504.7 94.1,502.6 95.4,506.3 96.6,507.8 98.2,512.5 99.5,517.0 100.5,521.5 101.9,527.8 103.7,532.4 106.9,536.0 109.6,537.0" fill="none" stroke="#111" stroke-width="1.2" stroke-linejoin="round"/>
<rect x="67.4" y="499.4" width="62.6" height="37.8" fill="none" stroke="#2a2a2a" stroke-width="1.2"/>
<line x1="71.0" y1="537.2" x2="71.0" y2="540.8" stroke="#111" stroke-width="0.85"/>
<line x1="75.1" y1="537.2" x2="75.1" y2="539.8" stroke="#111" stroke-width="0.85"/>
<line x1="77.5" y1="537.2" x2="77.5" y2="539.8" stroke="#111" stroke-width="0.85"/>
<line x1="79.2" y1="537.2" x2="79.2" y2="539.8" stroke="#111" stroke-width="0.85"/>
<line x1="80.6" y1="537.2" x2="80.6" y2="539.8" stroke="#111" stroke-width="0.85"/>
<line x1="81.7" y1="537.2" x2="81.7" y2="539.8" stroke="#111" stroke-width="0.85"/>
<line x1="82.6" y1="537.2" x2="82.6" y2="539.8" stroke="#111" stroke-width="0.85"/>
<line x1="83.4" y1="537.2" x2="83.4" y2="539.8" stroke="#111" stroke-width="0.85"/>
<line x1="84.1" y1="537.2" x2="84.1" y2="539.8" stroke="#111" stroke-width="0.85"/>
<line x1="84.7" y1="537.2" x2="84.7" y2="540.8" stroke="#111" stroke-width="0.85"/>
<line x1="88.8" y1="537.2" x2="88.8" y2="539.8" stroke="#111" stroke-width="0.85"/>
<line x1="91.2" y1="537.2" x2="91.2" y2="539.8" stroke="#111" stroke-width="0.85"/>
<line x1="92.9" y1="537.2" x2="92.9" y2="539.8" stroke="#111" stroke-width="0.85"/>
<line x1="94.3" y1="537.2" x2="94.3" y2="539.8" stroke="#111" stroke-width="0.85"/>
<line x1="95.4" y1="537.2" x2="95.4" y2="539.8" stroke="#111" stroke-width="0.85"/>
<line x1="96.3" y1="537.2" x2="96.3" y2="539.8" stroke="#111" stroke-width="0.85"/>
<line x1="97.1" y1="537.2" x2="97.1" y2="539.8" stroke="#111" stroke-width="0.85"/>
<line x1="97.8" y1="537.2" x2="97.8" y2="539.8" stroke="#111" stroke-width="0.85"/>
<line x1="98.4" y1="537.2" x2="98.4" y2="540.8" stroke="#111" stroke-width="0.85"/>
<line x1="102.5" y1="537.2" x2="102.5" y2="539.8" stroke="#111" stroke-width="0.85"/>
<line x1="104.9" y1="537.2" x2="104.9" y2="539.8" stroke="#111" stroke-width="0.85"/>
<line x1="106.6" y1="537.2" x2="106.6" y2="539.8" stroke="#111" stroke-width="0.85"/>
<line x1="108.0" y1="537.2" x2="108.0" y2="539.8" stroke="#111" stroke-width="0.85"/>
<line x1="109.1" y1="537.2" x2="109.1" y2="539.8" stroke="#111" stroke-width="0.85"/>
<line x1="110.0" y1="537.2" x2="110.0" y2="539.8" stroke="#111" stroke-width="0.85"/>
<line x1="110.8" y1="537.2" x2="110.8" y2="539.8" stroke="#111" stroke-width="0.85"/>
<line x1="111.5" y1="537.2" x2="111.5" y2="539.8" stroke="#111" stroke-width="0.85"/>
<line x1="112.1" y1="537.2" x2="112.1" y2="540.8" stroke="#111" stroke-width="0.85"/>
<line x1="116.2" y1="537.2" x2="116.2" y2="539.8" stroke="#111" stroke-width="0.85"/>
<line x1="118.6" y1="537.2" x2="118.6" y2="539.8" stroke="#111" stroke-width="0.85"/>
<line x1="120.3" y1="537.2" x2="120.3" y2="539.8" stroke="#111" stroke-width="0.85"/>
<line x1="121.7" y1="537.2" x2="121.7" y2="539.8" stroke="#111" stroke-width="0.85"/>
<line x1="122.8" y1="537.2" x2="122.8" y2="539.8" stroke="#111" stroke-width="0.85"/>
<line x1="123.7" y1="537.2" x2="123.7" y2="539.8" stroke="#111" stroke-width="0.85"/>
<line x1="124.5" y1="537.2" x2="124.5" y2="539.8" stroke="#111" stroke-width="0.85"/>
<line x1="125.2" y1="537.2" x2="125.2" y2="539.8" stroke="#111" stroke-width="0.85"/>
<line x1="125.8" y1="537.2" x2="125.8" y2="540.8" stroke="#111" stroke-width="0.85"/>
<polygon points="75.0,584.4 76.5,584.2 82.1,581.5 86.2,579.1 89.4,575.9 91.8,572.7 94.2,569.4 95.8,564.6 97.5,558.9 98.7,553.3 99.9,548.4 100.5,548.0 103.3,548.0 104.7,554.1 105.9,562.2 107.2,570.2 108.4,576.7 109.6,581.5 110.8,584.4" fill="#6f6f6f"/>
<polyline points="73.5,584.4 74.5,584.0 78.1,579.9 81.3,575.9 83.7,571.0 86.2,566.2 87.8,561.3 89.4,558.1 91.4,554.9 93.4,553.9 95.8,556.5 97.5,561.3 99.1,567.0 100.7,572.7 102.3,578.3 103.9,582.3 105.5,584.2 107.0,584.4" fill="none" stroke="#111" stroke-width="1.2" stroke-linejoin="round"/>
<rect x="67.4" y="547.8" width="63.0" height="36.8" fill="none" stroke="#2a2a2a" stroke-width="1.2"/>
<line x1="71.0" y1="584.6" x2="71.0" y2="588.2" stroke="#111" stroke-width="0.85"/>
<line x1="75.1" y1="584.6" x2="75.1" y2="587.2" stroke="#111" stroke-width="0.85"/>
<line x1="77.5" y1="584.6" x2="77.5" y2="587.2" stroke="#111" stroke-width="0.85"/>
<line x1="79.2" y1="584.6" x2="79.2" y2="587.2" stroke="#111" stroke-width="0.85"/>
<line x1="80.6" y1="584.6" x2="80.6" y2="587.2" stroke="#111" stroke-width="0.85"/>
<line x1="81.7" y1="584.6" x2="81.7" y2="587.2" stroke="#111" stroke-width="0.85"/>
<line x1="82.6" y1="584.6" x2="82.6" y2="587.2" stroke="#111" stroke-width="0.85"/>
<line x1="83.4" y1="584.6" x2="83.4" y2="587.2" stroke="#111" stroke-width="0.85"/>
<line x1="84.1" y1="584.6" x2="84.1" y2="587.2" stroke="#111" stroke-width="0.85"/>
<line x1="84.7" y1="584.6" x2="84.7" y2="588.2" stroke="#111" stroke-width="0.85"/>
<line x1="88.8" y1="584.6" x2="88.8" y2="587.2" stroke="#111" stroke-width="0.85"/>
<line x1="91.2" y1="584.6" x2="91.2" y2="587.2" stroke="#111" stroke-width="0.85"/>
<line x1="92.9" y1="584.6" x2="92.9" y2="587.2" stroke="#111" stroke-width="0.85"/>
<line x1="94.3" y1="584.6" x2="94.3" y2="587.2" stroke="#111" stroke-width="0.85"/>
<line x1="95.4" y1="584.6" x2="95.4" y2="587.2" stroke="#111" stroke-width="0.85"/>
<line x1="96.3" y1="584.6" x2="96.3" y2="587.2" stroke="#111" stroke-width="0.85"/>
<line x1="97.1" y1="584.6" x2="97.1" y2="587.2" stroke="#111" stroke-width="0.85"/>
<line x1="97.8" y1="584.6" x2="97.8" y2="587.2" stroke="#111" stroke-width="0.85"/>
<line x1="98.4" y1="584.6" x2="98.4" y2="588.2" stroke="#111" stroke-width="0.85"/>
<line x1="102.5" y1="584.6" x2="102.5" y2="587.2" stroke="#111" stroke-width="0.85"/>
<line x1="104.9" y1="584.6" x2="104.9" y2="587.2" stroke="#111" stroke-width="0.85"/>
<line x1="106.6" y1="584.6" x2="106.6" y2="587.2" stroke="#111" stroke-width="0.85"/>
<line x1="108.0" y1="584.6" x2="108.0" y2="587.2" stroke="#111" stroke-width="0.85"/>
<line x1="109.1" y1="584.6" x2="109.1" y2="587.2" stroke="#111" stroke-width="0.85"/>
<line x1="110.0" y1="584.6" x2="110.0" y2="587.2" stroke="#111" stroke-width="0.85"/>
<line x1="110.8" y1="584.6" x2="110.8" y2="587.2" stroke="#111" stroke-width="0.85"/>
<line x1="111.5" y1="584.6" x2="111.5" y2="587.2" stroke="#111" stroke-width="0.85"/>
<line x1="112.1" y1="584.6" x2="112.1" y2="588.2" stroke="#111" stroke-width="0.85"/>
<line x1="116.2" y1="584.6" x2="116.2" y2="587.2" stroke="#111" stroke-width="0.85"/>
<line x1="118.6" y1="584.6" x2="118.6" y2="587.2" stroke="#111" stroke-width="0.85"/>
<line x1="120.3" y1="584.6" x2="120.3" y2="587.2" stroke="#111" stroke-width="0.85"/>
<line x1="121.7" y1="584.6" x2="121.7" y2="587.2" stroke="#111" stroke-width="0.85"/>
<line x1="122.8" y1="584.6" x2="122.8" y2="587.2" stroke="#111" stroke-width="0.85"/>
<line x1="123.7" y1="584.6" x2="123.7" y2="587.2" stroke="#111" stroke-width="0.85"/>
<line x1="124.5" y1="584.6" x2="124.5" y2="587.2" stroke="#111" stroke-width="0.85"/>
<line x1="125.2" y1="584.6" x2="125.2" y2="587.2" stroke="#111" stroke-width="0.85"/>
<line x1="125.8" y1="584.6" x2="125.8" y2="588.2" stroke="#111" stroke-width="0.85"/>
<polygon points="145.0,537.0 147.5,531.0 149.0,526.0 150.5,521.0 152.0,517.0 153.2,511.0 154.0,505.0 154.8,500.5 156.5,500.0 158.8,500.0 160.2,503.8 161.2,507.1 162.1,507.1 163.1,511.5 164.0,516.3 165.2,521.6 166.9,524.9 168.8,529.3 170.8,527.3 172.2,525.4 173.7,526.8 175.1,528.3 176.5,528.8 178.5,530.7 180.4,532.1 182.3,534.5 185.2,536.0 188.0,537.0" fill="#6f6f6f"/>
<polyline points="143.8,536.3 145.8,531.7 147.7,525.9 149.1,521.1 150.6,518.2 152.0,516.8 153.0,512.4 153.9,507.6 154.9,503.8 155.9,506.2 157.3,505.2 158.8,500.6 160.2,503.8 161.2,507.1 162.1,507.1 163.1,511.5 164.0,516.3 165.2,521.6 166.9,524.9 168.8,529.3 170.8,527.3 172.2,525.4 173.7,526.8 175.1,528.3 176.5,528.8 178.5,530.7 180.4,532.1 182.3,534.5 185.2,536.0 188.1,536.8 196.0,537.0" fill="none" stroke="#111" stroke-width="1.2" stroke-linejoin="round"/>
<rect x="140.4" y="499.8" width="63.2" height="37.5" fill="none" stroke="#2a2a2a" stroke-width="1.2"/>
<line x1="144.0" y1="537.3" x2="144.0" y2="540.9" stroke="#111" stroke-width="0.85"/>
<line x1="148.1" y1="537.3" x2="148.1" y2="539.9" stroke="#111" stroke-width="0.85"/>
<line x1="150.5" y1="537.3" x2="150.5" y2="539.9" stroke="#111" stroke-width="0.85"/>
<line x1="152.2" y1="537.3" x2="152.2" y2="539.9" stroke="#111" stroke-width="0.85"/>
<line x1="153.6" y1="537.3" x2="153.6" y2="539.9" stroke="#111" stroke-width="0.85"/>
<line x1="154.7" y1="537.3" x2="154.7" y2="539.9" stroke="#111" stroke-width="0.85"/>
<line x1="155.6" y1="537.3" x2="155.6" y2="539.9" stroke="#111" stroke-width="0.85"/>
<line x1="156.4" y1="537.3" x2="156.4" y2="539.9" stroke="#111" stroke-width="0.85"/>
<line x1="157.1" y1="537.3" x2="157.1" y2="539.9" stroke="#111" stroke-width="0.85"/>
<line x1="157.7" y1="537.3" x2="157.7" y2="540.9" stroke="#111" stroke-width="0.85"/>
<line x1="161.8" y1="537.3" x2="161.8" y2="539.9" stroke="#111" stroke-width="0.85"/>
<line x1="164.2" y1="537.3" x2="164.2" y2="539.9" stroke="#111" stroke-width="0.85"/>
<line x1="165.9" y1="537.3" x2="165.9" y2="539.9" stroke="#111" stroke-width="0.85"/>
<line x1="167.3" y1="537.3" x2="167.3" y2="539.9" stroke="#111" stroke-width="0.85"/>
<line x1="168.4" y1="537.3" x2="168.4" y2="539.9" stroke="#111" stroke-width="0.85"/>
<line x1="169.3" y1="537.3" x2="169.3" y2="539.9" stroke="#111" stroke-width="0.85"/>
<line x1="170.1" y1="537.3" x2="170.1" y2="539.9" stroke="#111" stroke-width="0.85"/>
<line x1="170.8" y1="537.3" x2="170.8" y2="539.9" stroke="#111" stroke-width="0.85"/>
<line x1="171.4" y1="537.3" x2="171.4" y2="540.9" stroke="#111" stroke-width="0.85"/>
<line x1="175.5" y1="537.3" x2="175.5" y2="539.9" stroke="#111" stroke-width="0.85"/>
<line x1="177.9" y1="537.3" x2="177.9" y2="539.9" stroke="#111" stroke-width="0.85"/>
<line x1="179.6" y1="537.3" x2="179.6" y2="539.9" stroke="#111" stroke-width="0.85"/>
<line x1="181.0" y1="537.3" x2="181.0" y2="539.9" stroke="#111" stroke-width="0.85"/>
<line x1="182.1" y1="537.3" x2="182.1" y2="539.9" stroke="#111" stroke-width="0.85"/>
<line x1="183.0" y1="537.3" x2="183.0" y2="539.9" stroke="#111" stroke-width="0.85"/>
<line x1="183.8" y1="537.3" x2="183.8" y2="539.9" stroke="#111" stroke-width="0.85"/>
<line x1="184.5" y1="537.3" x2="184.5" y2="539.9" stroke="#111" stroke-width="0.85"/>
<line x1="185.1" y1="537.3" x2="185.1" y2="540.9" stroke="#111" stroke-width="0.85"/>
<line x1="189.2" y1="537.3" x2="189.2" y2="539.9" stroke="#111" stroke-width="0.85"/>
<line x1="191.6" y1="537.3" x2="191.6" y2="539.9" stroke="#111" stroke-width="0.85"/>
<line x1="193.3" y1="537.3" x2="193.3" y2="539.9" stroke="#111" stroke-width="0.85"/>
<line x1="194.7" y1="537.3" x2="194.7" y2="539.9" stroke="#111" stroke-width="0.85"/>
<line x1="195.8" y1="537.3" x2="195.8" y2="539.9" stroke="#111" stroke-width="0.85"/>
<line x1="196.7" y1="537.3" x2="196.7" y2="539.9" stroke="#111" stroke-width="0.85"/>
<line x1="197.5" y1="537.3" x2="197.5" y2="539.9" stroke="#111" stroke-width="0.85"/>
<line x1="198.2" y1="537.3" x2="198.2" y2="539.9" stroke="#111" stroke-width="0.85"/>
<line x1="198.8" y1="537.3" x2="198.8" y2="540.9" stroke="#111" stroke-width="0.85"/>
<polygon points="143.5,584.4 146.5,579.7 148.5,573.9 150.4,568.1 152.3,563.3 154.2,558.0 155.6,554.5 156.8,550.5 158.5,548.5 160.7,548.5 162.1,551.8 163.6,556.6 165.0,562.3 166.4,569.1 167.6,575.0 169.0,579.5 171.5,580.2 173.5,578.2 175.2,576.0 177.0,574.6 182.3,574.4 184.2,578.7 186.2,582.5 187.3,584.4" fill="#6f6f6f"/>
<polyline points="143.8,584.4 146.7,579.7 148.7,573.9 150.6,568.1 152.5,563.3 154.4,558.5 155.9,555.6 157.3,553.7 158.8,549.4 160.7,549.8 162.1,551.8 163.6,556.6 165.0,562.3 166.4,569.1 167.9,573.9 169.8,574.8 172.7,574.8 175.6,575.3 178.0,575.8 179.4,577.7 180.9,580.1 182.3,582.1 184.2,583.0 186.2,584.3 200.0,584.4" fill="none" stroke="#111" stroke-width="1.2" stroke-linejoin="round"/>
<rect x="140.4" y="547.6" width="63.2" height="37.0" fill="none" stroke="#2a2a2a" stroke-width="1.2"/>
<line x1="144.0" y1="584.6" x2="144.0" y2="588.2" stroke="#111" stroke-width="0.85"/>
<line x1="148.1" y1="584.6" x2="148.1" y2="587.2" stroke="#111" stroke-width="0.85"/>
<line x1="150.5" y1="584.6" x2="150.5" y2="587.2" stroke="#111" stroke-width="0.85"/>
<line x1="152.2" y1="584.6" x2="152.2" y2="587.2" stroke="#111" stroke-width="0.85"/>
<line x1="153.6" y1="584.6" x2="153.6" y2="587.2" stroke="#111" stroke-width="0.85"/>
<line x1="154.7" y1="584.6" x2="154.7" y2="587.2" stroke="#111" stroke-width="0.85"/>
<line x1="155.6" y1="584.6" x2="155.6" y2="587.2" stroke="#111" stroke-width="0.85"/>
<line x1="156.4" y1="584.6" x2="156.4" y2="587.2" stroke="#111" stroke-width="0.85"/>
<line x1="157.1" y1="584.6" x2="157.1" y2="587.2" stroke="#111" stroke-width="0.85"/>
<line x1="157.7" y1="584.6" x2="157.7" y2="588.2" stroke="#111" stroke-width="0.85"/>
<line x1="161.8" y1="584.6" x2="161.8" y2="587.2" stroke="#111" stroke-width="0.85"/>
<line x1="164.2" y1="584.6" x2="164.2" y2="587.2" stroke="#111" stroke-width="0.85"/>
<line x1="165.9" y1="584.6" x2="165.9" y2="587.2" stroke="#111" stroke-width="0.85"/>
<line x1="167.3" y1="584.6" x2="167.3" y2="587.2" stroke="#111" stroke-width="0.85"/>
<line x1="168.4" y1="584.6" x2="168.4" y2="587.2" stroke="#111" stroke-width="0.85"/>
<line x1="169.3" y1="584.6" x2="169.3" y2="587.2" stroke="#111" stroke-width="0.85"/>
<line x1="170.1" y1="584.6" x2="170.1" y2="587.2" stroke="#111" stroke-width="0.85"/>
<line x1="170.8" y1="584.6" x2="170.8" y2="587.2" stroke="#111" stroke-width="0.85"/>
<line x1="171.4" y1="584.6" x2="171.4" y2="588.2" stroke="#111" stroke-width="0.85"/>
<line x1="175.5" y1="584.6" x2="175.5" y2="587.2" stroke="#111" stroke-width="0.85"/>
<line x1="177.9" y1="584.6" x2="177.9" y2="587.2" stroke="#111" stroke-width="0.85"/>
<line x1="179.6" y1="584.6" x2="179.6" y2="587.2" stroke="#111" stroke-width="0.85"/>
<line x1="181.0" y1="584.6" x2="181.0" y2="587.2" stroke="#111" stroke-width="0.85"/>
<line x1="182.1" y1="584.6" x2="182.1" y2="587.2" stroke="#111" stroke-width="0.85"/>
<line x1="183.0" y1="584.6" x2="183.0" y2="587.2" stroke="#111" stroke-width="0.85"/>
<line x1="183.8" y1="584.6" x2="183.8" y2="587.2" stroke="#111" stroke-width="0.85"/>
<line x1="184.5" y1="584.6" x2="184.5" y2="587.2" stroke="#111" stroke-width="0.85"/>
<line x1="185.1" y1="584.6" x2="185.1" y2="588.2" stroke="#111" stroke-width="0.85"/>
<line x1="189.2" y1="584.6" x2="189.2" y2="587.2" stroke="#111" stroke-width="0.85"/>
<line x1="191.6" y1="584.6" x2="191.6" y2="587.2" stroke="#111" stroke-width="0.85"/>
<line x1="193.3" y1="584.6" x2="193.3" y2="587.2" stroke="#111" stroke-width="0.85"/>
<line x1="194.7" y1="584.6" x2="194.7" y2="587.2" stroke="#111" stroke-width="0.85"/>
<line x1="195.8" y1="584.6" x2="195.8" y2="587.2" stroke="#111" stroke-width="0.85"/>
<line x1="196.7" y1="584.6" x2="196.7" y2="587.2" stroke="#111" stroke-width="0.85"/>
<line x1="197.5" y1="584.6" x2="197.5" y2="587.2" stroke="#111" stroke-width="0.85"/>
<line x1="198.2" y1="584.6" x2="198.2" y2="587.2" stroke="#111" stroke-width="0.85"/>
<line x1="198.8" y1="584.6" x2="198.8" y2="588.2" stroke="#111" stroke-width="0.85"/>
</svg>
</body></html>
